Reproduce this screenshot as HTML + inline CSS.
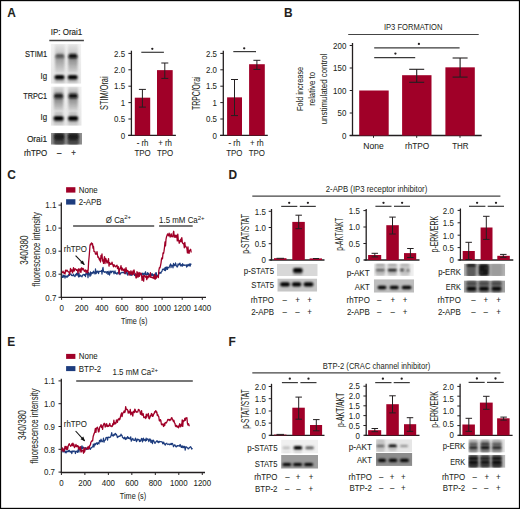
<!DOCTYPE html><html><head><meta charset="utf-8"><style>html,body{margin:0;padding:0;background:#fff;}body{width:520px;height:509px;overflow:hidden;font-family:"Liberation Sans",sans-serif;}svg{display:block;}</style></head><body><svg width="520" height="509" viewBox="0 0 520 509" font-family="Liberation Sans, sans-serif"><style>text{stroke:#231f20;stroke-width:0.06px;}g.pa text{stroke-width:0.16px;}text.v,g.pa text.v{stroke-width:0.04px;}text.n{stroke-width:0px;}</style><defs><filter id="b03" x="-50%" y="-100%" width="200%" height="300%"><feGaussianBlur stdDeviation="0.8"/></filter><filter id="b05" x="-50%" y="-100%" width="200%" height="300%"><feGaussianBlur stdDeviation="0.8"/></filter><filter id="b08" x="-50%" y="-100%" width="200%" height="300%"><feGaussianBlur stdDeviation="0.8"/></filter><filter id="b10" x="-50%" y="-100%" width="200%" height="300%"><feGaussianBlur stdDeviation="1.0"/></filter><filter id="b12" x="-50%" y="-100%" width="200%" height="300%"><feGaussianBlur stdDeviation="1.2"/></filter><filter id="b15" x="-50%" y="-100%" width="200%" height="300%"><feGaussianBlur stdDeviation="1.5"/></filter><filter id="b20" x="-50%" y="-100%" width="200%" height="300%"><feGaussianBlur stdDeviation="2.0"/></filter><clipPath id="c1"><rect x="277.00" y="264.00" width="40.70" height="12.00"/></clipPath><linearGradient id="g1" x1="0" y1="0" x2="0" y2="1"><stop offset="0" stop-color="#777" stop-opacity="0.8"/><stop offset="1" stop-color="#999" stop-opacity="0.3"/></linearGradient><clipPath id="c2"><rect x="277.30" y="278.40" width="39.90" height="13.30"/></clipPath><clipPath id="c3"><rect x="373.70" y="263.50" width="40.10" height="12.40"/></clipPath><clipPath id="c4"><rect x="373.80" y="279.20" width="40.20" height="13.50"/></clipPath><clipPath id="c5"><rect x="463.80" y="263.80" width="41.40" height="12.10"/></clipPath><clipPath id="c6"><rect x="463.80" y="280.40" width="41.20" height="12.30"/></clipPath><clipPath id="c7"><rect x="281.10" y="439.60" width="36.90" height="13.90"/></clipPath><clipPath id="c8"><rect x="281.10" y="454.90" width="36.90" height="13.80"/></clipPath><clipPath id="c9"><rect x="376.00" y="439.20" width="36.00" height="12.90"/></clipPath><clipPath id="c10"><rect x="376.00" y="453.00" width="36.30" height="12.90"/></clipPath><clipPath id="c11"><rect x="468.30" y="439.20" width="36.60" height="13.30"/></clipPath><clipPath id="c12"><rect x="468.30" y="454.90" width="37.10" height="12.90"/></clipPath><clipPath id="c13"><rect x="50.80" y="43.90" width="30.50" height="39.80"/></clipPath><linearGradient id="g2" x1="0" y1="0" x2="0" y2="1"><stop offset="0" stop-color="#f2f2f2"/><stop offset="1" stop-color="#e6e6e6"/></linearGradient><linearGradient id="g3" x1="0" y1="0" x2="0" y2="1"><stop offset="0" stop-color="#999" stop-opacity="0.15"/><stop offset="1" stop-color="#999" stop-opacity="0.45"/></linearGradient><linearGradient id="g4" x1="0" y1="0" x2="0" y2="1"><stop offset="0" stop-color="#999" stop-opacity="0.15"/><stop offset="1" stop-color="#999" stop-opacity="0.45"/></linearGradient><linearGradient id="g5" x1="0" y1="0" x2="0" y2="1"><stop offset="0" stop-color="#777" stop-opacity="0.8"/><stop offset="1" stop-color="#777" stop-opacity="0.15"/></linearGradient><linearGradient id="g6" x1="0" y1="0" x2="0" y2="1"><stop offset="0" stop-color="#666" stop-opacity="0.85"/><stop offset="1" stop-color="#666" stop-opacity="0.15"/></linearGradient><linearGradient id="g7" x1="0" y1="0" x2="0" y2="1"><stop offset="0" stop-color="#999" stop-opacity="0.7"/><stop offset="1" stop-color="#999" stop-opacity="0.2"/></linearGradient><linearGradient id="g8" x1="0" y1="0" x2="0" y2="1"><stop offset="0" stop-color="#999" stop-opacity="0.7"/><stop offset="1" stop-color="#999" stop-opacity="0.2"/></linearGradient><clipPath id="c14"><rect x="50.80" y="86.50" width="30.90" height="39.30"/></clipPath><linearGradient id="g9" x1="0" y1="0" x2="0" y2="1"><stop offset="0" stop-color="#f0f0f0"/><stop offset="1" stop-color="#e6e6e6"/></linearGradient><linearGradient id="g10" x1="0" y1="0" x2="0" y2="1"><stop offset="0" stop-color="#888" stop-opacity="0.2"/><stop offset="1" stop-color="#888" stop-opacity="0.6"/></linearGradient><linearGradient id="g11" x1="0" y1="0" x2="0" y2="1"><stop offset="0" stop-color="#888" stop-opacity="0.2"/><stop offset="1" stop-color="#888" stop-opacity="0.6"/></linearGradient><linearGradient id="g12" x1="0" y1="0" x2="0" y2="1"><stop offset="0" stop-color="#666" stop-opacity="0.85"/><stop offset="1" stop-color="#666" stop-opacity="0.15"/></linearGradient><linearGradient id="g13" x1="0" y1="0" x2="0" y2="1"><stop offset="0" stop-color="#666" stop-opacity="0.8"/><stop offset="1" stop-color="#666" stop-opacity="0.15"/></linearGradient><linearGradient id="g14" x1="0" y1="0" x2="0" y2="1"><stop offset="0" stop-color="#999" stop-opacity="0.7"/><stop offset="1" stop-color="#999" stop-opacity="0.2"/></linearGradient><linearGradient id="g15" x1="0" y1="0" x2="0" y2="1"><stop offset="0" stop-color="#999" stop-opacity="0.7"/><stop offset="1" stop-color="#999" stop-opacity="0.2"/></linearGradient><clipPath id="c15"><rect x="50.90" y="133.00" width="31.10" height="11.70"/></clipPath></defs><rect x="0" y="0" width="520" height="509" fill="#fff"/>
<text x="7.20" y="17.00" font-size="11.9" font-weight="bold" fill="#231f20">A</text>
<g class="pa">
<text x="66.50" y="35.30" font-size="9.3" text-anchor="middle" textLength="31.5" lengthAdjust="spacingAndGlyphs" fill="#231f20">IP: Orai1</text>
<line x1="49.30" y1="40.50" x2="83.90" y2="40.50" stroke="#444" stroke-width="1.4"/>
<text x="47.20" y="57.30" font-size="9.3" text-anchor="end" textLength="22.1" lengthAdjust="spacingAndGlyphs" fill="#231f20">STIM1</text>
<text x="47.20" y="79.20" font-size="9.3" text-anchor="end" textLength="6.59" lengthAdjust="spacingAndGlyphs" fill="#231f20">Ig</text>
<text x="47.20" y="99.20" font-size="9.3" text-anchor="end" textLength="24.0" lengthAdjust="spacingAndGlyphs" fill="#231f20">TRPC1</text>
<text x="47.20" y="120.20" font-size="9.3" text-anchor="end" textLength="6.59" lengthAdjust="spacingAndGlyphs" fill="#231f20">Ig</text>
<text x="47.20" y="142.10" font-size="9.3" text-anchor="end" textLength="20.3" lengthAdjust="spacingAndGlyphs" fill="#231f20">Orai1</text>
<text x="47.20" y="155.50" font-size="9.3" text-anchor="end" textLength="23.28" lengthAdjust="spacingAndGlyphs" fill="#231f20">rhTPO</text>
<text x="59.30" y="155.50" font-size="9.3" text-anchor="middle" textLength="4.4" lengthAdjust="spacingAndGlyphs" fill="#231f20">–</text>
<text x="73.60" y="155.50" font-size="9.3" text-anchor="middle" textLength="4.62" lengthAdjust="spacingAndGlyphs" fill="#231f20">+</text>
</g>
<line x1="131.40" y1="50.70" x2="131.40" y2="135.90" stroke="#231f20" stroke-width="1.3"/>
<line x1="128.20" y1="135.40" x2="175.90" y2="135.40" stroke="#231f20" stroke-width="1.3"/>
<line x1="128.40" y1="53.40" x2="131.40" y2="53.40" stroke="#231f20" stroke-width="1.0"/>
<text x="125.10" y="56.60" font-size="9.3" text-anchor="end" textLength="10.99" lengthAdjust="spacingAndGlyphs" fill="#231f20">2.5</text>
<line x1="128.40" y1="69.80" x2="131.40" y2="69.80" stroke="#231f20" stroke-width="1.0"/>
<text x="125.10" y="73.00" font-size="9.3" text-anchor="end" textLength="10.99" lengthAdjust="spacingAndGlyphs" fill="#231f20">2.0</text>
<line x1="128.40" y1="86.20" x2="131.40" y2="86.20" stroke="#231f20" stroke-width="1.0"/>
<text x="125.10" y="89.40" font-size="9.3" text-anchor="end" textLength="10.99" lengthAdjust="spacingAndGlyphs" fill="#231f20">1.5</text>
<line x1="128.40" y1="102.60" x2="131.40" y2="102.60" stroke="#231f20" stroke-width="1.0"/>
<text x="125.10" y="105.80" font-size="9.3" text-anchor="end" textLength="4.4" lengthAdjust="spacingAndGlyphs" fill="#231f20">1</text>
<line x1="128.40" y1="119.00" x2="131.40" y2="119.00" stroke="#231f20" stroke-width="1.0"/>
<text x="125.10" y="122.20" font-size="9.3" text-anchor="end" textLength="10.99" lengthAdjust="spacingAndGlyphs" fill="#231f20">0.5</text>
<line x1="128.40" y1="135.40" x2="131.40" y2="135.40" stroke="#231f20" stroke-width="1.0"/>
<text x="125.10" y="138.60" font-size="9.3" text-anchor="end" textLength="4.4" lengthAdjust="spacingAndGlyphs" fill="#231f20">0</text>
<rect x="134.80" y="97.68" width="15.40" height="37.72" fill="#a00028"/>
<line x1="142.40" y1="89.40" x2="142.40" y2="107.10" stroke="#231f20" stroke-width="1.0"/>
<line x1="138.90" y1="89.40" x2="145.90" y2="89.40" stroke="#231f20" stroke-width="1.0"/>
<line x1="138.90" y1="107.10" x2="145.90" y2="107.10" stroke="#231f20" stroke-width="1.0"/>
<rect x="157.00" y="70.13" width="15.70" height="65.27" fill="#a00028"/>
<line x1="164.80" y1="63.00" x2="164.80" y2="78.40" stroke="#231f20" stroke-width="1.0"/>
<line x1="161.30" y1="63.00" x2="168.30" y2="63.00" stroke="#231f20" stroke-width="1.0"/>
<line x1="161.30" y1="78.40" x2="168.30" y2="78.40" stroke="#231f20" stroke-width="1.0"/>
<text class="v" transform="translate(108.05,93.20) rotate(-90)" x="0" y="0" font-size="10.5" text-anchor="middle" textLength="33.6" lengthAdjust="spacingAndGlyphs" fill="#231f20">STIM/Orai</text>
<text x="142.60" y="146.10" font-size="9.3" text-anchor="middle" textLength="11.86" lengthAdjust="spacingAndGlyphs" fill="#231f20">- rh</text>
<text x="142.60" y="155.70" font-size="9.3" text-anchor="middle" textLength="16.25" lengthAdjust="spacingAndGlyphs" fill="#231f20">TPO</text>
<text x="165.10" y="146.10" font-size="9.3" text-anchor="middle" textLength="13.84" lengthAdjust="spacingAndGlyphs" fill="#231f20">+ rh</text>
<text x="165.10" y="155.70" font-size="9.3" text-anchor="middle" textLength="16.25" lengthAdjust="spacingAndGlyphs" fill="#231f20">TPO</text>
<line x1="141.30" y1="52.30" x2="163.90" y2="52.30" stroke="#3a3a3a" stroke-width="1.2"/>
<circle cx="152.30" cy="48.80" r="1.15" fill="#231f20"/>
<line x1="223.30" y1="50.70" x2="223.30" y2="135.90" stroke="#231f20" stroke-width="1.3"/>
<line x1="220.10" y1="135.40" x2="267.80" y2="135.40" stroke="#231f20" stroke-width="1.3"/>
<line x1="220.30" y1="53.40" x2="223.30" y2="53.40" stroke="#231f20" stroke-width="1.0"/>
<text x="217.00" y="56.60" font-size="9.3" text-anchor="end" textLength="10.99" lengthAdjust="spacingAndGlyphs" fill="#231f20">2.5</text>
<line x1="220.30" y1="69.80" x2="223.30" y2="69.80" stroke="#231f20" stroke-width="1.0"/>
<text x="217.00" y="73.00" font-size="9.3" text-anchor="end" textLength="10.99" lengthAdjust="spacingAndGlyphs" fill="#231f20">2.0</text>
<line x1="220.30" y1="86.20" x2="223.30" y2="86.20" stroke="#231f20" stroke-width="1.0"/>
<text x="217.00" y="89.40" font-size="9.3" text-anchor="end" textLength="10.99" lengthAdjust="spacingAndGlyphs" fill="#231f20">1.5</text>
<line x1="220.30" y1="102.60" x2="223.30" y2="102.60" stroke="#231f20" stroke-width="1.0"/>
<text x="217.00" y="105.80" font-size="9.3" text-anchor="end" textLength="4.4" lengthAdjust="spacingAndGlyphs" fill="#231f20">1</text>
<line x1="220.30" y1="119.00" x2="223.30" y2="119.00" stroke="#231f20" stroke-width="1.0"/>
<text x="217.00" y="122.20" font-size="9.3" text-anchor="end" textLength="10.99" lengthAdjust="spacingAndGlyphs" fill="#231f20">0.5</text>
<line x1="220.30" y1="135.40" x2="223.30" y2="135.40" stroke="#231f20" stroke-width="1.0"/>
<text x="217.00" y="138.60" font-size="9.3" text-anchor="end" textLength="4.4" lengthAdjust="spacingAndGlyphs" fill="#231f20">0</text>
<rect x="227.10" y="97.35" width="14.90" height="38.05" fill="#a00028"/>
<line x1="234.50" y1="79.50" x2="234.50" y2="115.60" stroke="#231f20" stroke-width="1.0"/>
<line x1="231.00" y1="79.50" x2="238.00" y2="79.50" stroke="#231f20" stroke-width="1.0"/>
<line x1="231.00" y1="115.60" x2="238.00" y2="115.60" stroke="#231f20" stroke-width="1.0"/>
<rect x="249.10" y="64.22" width="15.70" height="71.18" fill="#a00028"/>
<line x1="256.90" y1="60.30" x2="256.90" y2="69.40" stroke="#231f20" stroke-width="1.0"/>
<line x1="253.40" y1="60.30" x2="260.40" y2="60.30" stroke="#231f20" stroke-width="1.0"/>
<line x1="253.40" y1="69.40" x2="260.40" y2="69.40" stroke="#231f20" stroke-width="1.0"/>
<text class="v" transform="translate(199.95,93.20) rotate(-90)" x="0" y="0" font-size="10.5" text-anchor="middle" textLength="33.6" lengthAdjust="spacingAndGlyphs" fill="#231f20">TRPC/Orai</text>
<text x="234.40" y="146.10" font-size="9.3" text-anchor="middle" textLength="11.86" lengthAdjust="spacingAndGlyphs" fill="#231f20">- rh</text>
<text x="234.40" y="155.70" font-size="9.3" text-anchor="middle" textLength="16.25" lengthAdjust="spacingAndGlyphs" fill="#231f20">TPO</text>
<text x="256.80" y="146.10" font-size="9.3" text-anchor="middle" textLength="13.84" lengthAdjust="spacingAndGlyphs" fill="#231f20">+ rh</text>
<text x="256.80" y="155.70" font-size="9.3" text-anchor="middle" textLength="16.25" lengthAdjust="spacingAndGlyphs" fill="#231f20">TPO</text>
<line x1="233.30" y1="51.60" x2="256.00" y2="51.60" stroke="#3a3a3a" stroke-width="1.2"/>
<circle cx="244.20" cy="48.30" r="1.15" fill="#231f20"/>
<text x="284.00" y="17.00" font-size="11.9" font-weight="bold" fill="#231f20">B</text>
<text x="413.20" y="30.26" font-size="8.3" text-anchor="middle" textLength="58.5" lengthAdjust="spacingAndGlyphs" fill="#231f20" class="n">IP3 FORMATION</text>
<line x1="348.20" y1="34.50" x2="478.70" y2="34.50" stroke="#444" stroke-width="1.2"/>
<line x1="352.50" y1="43.00" x2="352.50" y2="136.00" stroke="#231f20" stroke-width="1.3"/>
<line x1="349.70" y1="135.50" x2="481.70" y2="135.50" stroke="#231f20" stroke-width="1.3"/>
<line x1="373.50" y1="135.50" x2="373.50" y2="137.80" stroke="#231f20" stroke-width="1.0"/>
<line x1="416.70" y1="135.50" x2="416.70" y2="137.80" stroke="#231f20" stroke-width="1.0"/>
<line x1="460.00" y1="135.50" x2="460.00" y2="137.80" stroke="#231f20" stroke-width="1.0"/>
<line x1="349.70" y1="45.50" x2="352.50" y2="45.50" stroke="#231f20" stroke-width="1.0"/>
<text x="346.30" y="48.70" font-size="9.3" text-anchor="end" textLength="13.19" lengthAdjust="spacingAndGlyphs" fill="#231f20">200</text>
<line x1="349.70" y1="68.00" x2="352.50" y2="68.00" stroke="#231f20" stroke-width="1.0"/>
<text x="346.30" y="71.20" font-size="9.3" text-anchor="end" textLength="13.19" lengthAdjust="spacingAndGlyphs" fill="#231f20">150</text>
<line x1="349.70" y1="90.50" x2="352.50" y2="90.50" stroke="#231f20" stroke-width="1.0"/>
<text x="346.30" y="93.70" font-size="9.3" text-anchor="end" textLength="13.19" lengthAdjust="spacingAndGlyphs" fill="#231f20">100</text>
<line x1="349.70" y1="113.00" x2="352.50" y2="113.00" stroke="#231f20" stroke-width="1.0"/>
<text x="346.30" y="116.20" font-size="9.3" text-anchor="end" textLength="8.79" lengthAdjust="spacingAndGlyphs" fill="#231f20">50</text>
<line x1="349.70" y1="135.50" x2="352.50" y2="135.50" stroke="#231f20" stroke-width="1.0"/>
<text x="346.30" y="138.70" font-size="9.3" text-anchor="end" textLength="4.4" lengthAdjust="spacingAndGlyphs" fill="#231f20">0</text>
<rect x="359.20" y="90.50" width="29.50" height="45.00" fill="#a00028"/>
<rect x="402.10" y="75.20" width="29.40" height="60.30" fill="#a00028"/>
<rect x="445.40" y="67.33" width="29.40" height="68.17" fill="#a00028"/>
<line x1="416.70" y1="69.30" x2="416.70" y2="82.30" stroke="#231f20" stroke-width="1.1"/>
<line x1="409.20" y1="69.30" x2="424.20" y2="69.30" stroke="#231f20" stroke-width="1.1"/>
<line x1="409.20" y1="82.30" x2="424.20" y2="82.30" stroke="#231f20" stroke-width="1.1"/>
<line x1="460.10" y1="58.00" x2="460.10" y2="77.10" stroke="#231f20" stroke-width="1.1"/>
<line x1="452.60" y1="58.00" x2="467.60" y2="58.00" stroke="#231f20" stroke-width="1.1"/>
<line x1="452.60" y1="77.10" x2="467.60" y2="77.10" stroke="#231f20" stroke-width="1.1"/>
<line x1="374.20" y1="57.70" x2="415.20" y2="57.70" stroke="#3a3a3a" stroke-width="1.2"/>
<circle cx="395.40" cy="53.60" r="1.15" fill="#231f20"/>
<line x1="374.20" y1="47.90" x2="459.60" y2="47.90" stroke="#3a3a3a" stroke-width="1.2"/>
<circle cx="418.90" cy="43.90" r="1.15" fill="#231f20"/>
<text x="373.50" y="149.40" font-size="9.3" text-anchor="middle" textLength="20.4" lengthAdjust="spacingAndGlyphs" fill="#231f20">None</text>
<text x="417.10" y="149.40" font-size="9.3" text-anchor="middle" textLength="24.4" lengthAdjust="spacingAndGlyphs" fill="#231f20">rhTPO</text>
<text x="460.30" y="149.40" font-size="9.3" text-anchor="middle" textLength="16.3" lengthAdjust="spacingAndGlyphs" fill="#231f20">THR</text>
<text class="v" transform="translate(302.58,88.90) rotate(-90)" x="0" y="0" font-size="9.6" text-anchor="middle" textLength="44.2" lengthAdjust="spacingAndGlyphs" fill="#231f20">Fold increase</text>
<text class="v" transform="translate(314.98,88.90) rotate(-90)" x="0" y="0" font-size="9.6" text-anchor="middle" textLength="33.8" lengthAdjust="spacingAndGlyphs" fill="#231f20">relative to</text>
<text class="v" transform="translate(326.88,88.90) rotate(-90)" x="0" y="0" font-size="9.6" text-anchor="middle" textLength="70.8" lengthAdjust="spacingAndGlyphs" fill="#231f20">unstimulated control</text>
<text x="7.30" y="179.20" font-size="11.9" font-weight="bold" fill="#231f20">C</text>
<rect x="66.10" y="187.20" width="9.30" height="5.40" fill="#a00028"/>
<rect x="66.10" y="199.20" width="9.30" height="5.40" fill="#1d3c7e"/>
<text x="78.80" y="193.00" font-size="9.3" textLength="18.9" lengthAdjust="spacingAndGlyphs" fill="#231f20">None</text>
<text x="78.80" y="205.00" font-size="9.3" textLength="22.85" lengthAdjust="spacingAndGlyphs" fill="#231f20">2-APB</text>
<line x1="61.30" y1="202.40" x2="61.30" y2="297.80" stroke="#231f20" stroke-width="1.3"/>
<line x1="58.50" y1="205.10" x2="61.30" y2="205.10" stroke="#231f20" stroke-width="1.0"/>
<text x="56.30" y="208.30" font-size="9.3" text-anchor="end" textLength="10.99" lengthAdjust="spacingAndGlyphs" fill="#231f20">1.1</text>
<line x1="58.50" y1="228.10" x2="61.30" y2="228.10" stroke="#231f20" stroke-width="1.0"/>
<text x="56.30" y="231.30" font-size="9.3" text-anchor="end" textLength="10.99" lengthAdjust="spacingAndGlyphs" fill="#231f20">1.0</text>
<line x1="58.50" y1="251.20" x2="61.30" y2="251.20" stroke="#231f20" stroke-width="1.0"/>
<text x="56.30" y="254.40" font-size="9.3" text-anchor="end" textLength="10.99" lengthAdjust="spacingAndGlyphs" fill="#231f20">0.9</text>
<line x1="58.50" y1="274.20" x2="61.30" y2="274.20" stroke="#231f20" stroke-width="1.0"/>
<text x="56.30" y="277.40" font-size="9.3" text-anchor="end" textLength="10.99" lengthAdjust="spacingAndGlyphs" fill="#231f20">0.8</text>
<line x1="58.50" y1="297.30" x2="61.30" y2="297.30" stroke="#231f20" stroke-width="1.0"/>
<text x="56.30" y="300.50" font-size="9.3" text-anchor="end" textLength="10.99" lengthAdjust="spacingAndGlyphs" fill="#231f20">0.7</text>
<line x1="60.80" y1="297.40" x2="206.00" y2="297.40" stroke="#231f20" stroke-width="1.3"/>
<line x1="61.60" y1="297.40" x2="61.60" y2="299.90" stroke="#231f20" stroke-width="1.0"/>
<text x="61.60" y="310.70" font-size="9.3" text-anchor="middle" textLength="4.4" lengthAdjust="spacingAndGlyphs" fill="#231f20">0</text>
<line x1="81.70" y1="297.40" x2="81.70" y2="299.90" stroke="#231f20" stroke-width="1.0"/>
<text x="81.70" y="310.70" font-size="9.3" text-anchor="middle" textLength="13.19" lengthAdjust="spacingAndGlyphs" fill="#231f20">200</text>
<line x1="101.80" y1="297.40" x2="101.80" y2="299.90" stroke="#231f20" stroke-width="1.0"/>
<text x="101.80" y="310.70" font-size="9.3" text-anchor="middle" textLength="13.19" lengthAdjust="spacingAndGlyphs" fill="#231f20">400</text>
<line x1="121.90" y1="297.40" x2="121.90" y2="299.90" stroke="#231f20" stroke-width="1.0"/>
<text x="121.90" y="310.70" font-size="9.3" text-anchor="middle" textLength="13.19" lengthAdjust="spacingAndGlyphs" fill="#231f20">600</text>
<line x1="142.00" y1="297.40" x2="142.00" y2="299.90" stroke="#231f20" stroke-width="1.0"/>
<text x="142.00" y="310.70" font-size="9.3" text-anchor="middle" textLength="13.19" lengthAdjust="spacingAndGlyphs" fill="#231f20">800</text>
<line x1="162.10" y1="297.40" x2="162.10" y2="299.90" stroke="#231f20" stroke-width="1.0"/>
<text x="162.10" y="310.70" font-size="9.3" text-anchor="middle" textLength="17.59" lengthAdjust="spacingAndGlyphs" fill="#231f20">1000</text>
<line x1="182.20" y1="297.40" x2="182.20" y2="299.90" stroke="#231f20" stroke-width="1.0"/>
<text x="182.20" y="310.70" font-size="9.3" text-anchor="middle" textLength="17.59" lengthAdjust="spacingAndGlyphs" fill="#231f20">1200</text>
<line x1="202.30" y1="297.40" x2="202.30" y2="299.90" stroke="#231f20" stroke-width="1.0"/>
<text x="202.30" y="310.70" font-size="9.3" text-anchor="middle" textLength="17.59" lengthAdjust="spacingAndGlyphs" fill="#231f20">1400</text>
<text x="134.20" y="323.70" font-size="9.3" text-anchor="middle" textLength="26.3" lengthAdjust="spacingAndGlyphs" fill="#231f20">Time (s)</text>
<text class="v" transform="translate(28.37,250.10) rotate(-90)" x="0" y="0" font-size="10.5" text-anchor="middle" textLength="29.4" lengthAdjust="spacingAndGlyphs" fill="#231f20">340/380</text>
<text class="v" transform="translate(39.54,249.30) rotate(-90)" x="0" y="0" font-size="10.5" text-anchor="middle" textLength="74.2" lengthAdjust="spacingAndGlyphs" fill="#231f20">fluorescence intensity</text>
<text x="105.80" y="223.00" font-size="9.3" fill="#231f20"><tspan textLength="18.45" lengthAdjust="spacingAndGlyphs">Ø Ca</tspan><tspan font-size="6" dy="-3.6">2+</tspan></text>
<line x1="73.10" y1="226.00" x2="154.20" y2="226.00" stroke="#4a4a4a" stroke-width="1.4"/>
<text x="159.10" y="223.40" font-size="9.3" fill="#231f20"><tspan textLength="38.66" lengthAdjust="spacingAndGlyphs">1.5 mM Ca</tspan><tspan font-size="6" dy="-3.6">2+</tspan></text>
<line x1="159.10" y1="226.00" x2="192.70" y2="226.00" stroke="#4a4a4a" stroke-width="1.4"/>
<text x="75.40" y="252.00" font-size="9.3" text-anchor="middle" textLength="23.28" lengthAdjust="spacingAndGlyphs" fill="#231f20">rhTPO</text>
<line x1="75.60" y1="255.60" x2="84.30" y2="264.60" stroke="#111" stroke-width="1.1"/>
<polygon points="84.72,265.03 80.15,263.04 82.89,260.40" fill="#111"/>
<polyline points="62.00,276.11 62.50,277.49 63.00,274.86 63.50,277.16 64.00,275.64 64.50,275.63 65.00,278.21 65.50,276.11 66.00,275.86 66.50,276.77 67.00,277.24 67.50,275.84 68.00,276.57 68.50,274.68 69.00,275.40 69.50,275.30 70.00,274.22 70.50,273.99 71.00,273.84 71.50,275.49 72.00,275.56 72.50,275.37 73.00,275.83 73.50,274.13 74.00,275.63 74.50,276.00 75.00,276.60 75.50,274.67 76.00,275.20 76.50,273.25 77.00,275.05 77.50,273.01 78.00,273.93 78.50,276.94 79.00,272.97 79.50,276.55 80.00,275.98 80.50,275.20 81.00,276.11 81.50,276.18 82.00,276.79 82.50,275.25 83.00,274.80 83.50,274.78 84.00,274.31 84.50,275.43 85.00,274.53 85.50,276.74 86.00,273.20 86.50,274.12 87.00,274.28 87.50,272.90 88.00,277.68 88.50,272.25 89.00,274.55 89.50,274.00 90.00,276.36 90.50,271.73 91.00,275.14 91.50,272.72 92.00,273.16 92.50,272.28 93.00,273.60 93.50,271.21 94.00,272.22 94.50,272.48 95.00,274.01 95.50,268.88 96.00,273.57 96.50,272.85 97.00,271.10 97.50,272.02 98.00,271.06 98.50,273.57 99.00,271.81 99.50,271.27 100.00,271.23 100.50,271.30 101.00,271.37 101.50,270.57 102.00,274.13 102.50,269.41 103.00,267.41 103.50,271.63 104.00,271.64 104.50,272.31 105.00,271.65 105.50,271.76 106.00,272.38 106.50,273.18 107.00,271.52 107.50,271.65 108.00,274.47 108.50,272.82 109.00,271.04 109.50,275.05 110.00,273.23 110.50,271.63 111.00,270.96 111.50,272.76 112.00,271.44 112.50,271.21 113.00,270.95 113.50,271.94 114.00,273.91 114.50,272.09 115.00,270.91 115.50,273.49 116.00,272.80 116.50,273.77 117.00,274.23 117.50,272.62 118.00,272.69 118.50,272.84 119.00,271.57 119.50,273.77 120.00,274.65 120.50,273.26 121.00,272.82 121.50,272.84 122.00,272.26 122.50,272.29 123.00,272.82 123.50,272.34 124.00,272.88 124.50,271.56 125.00,273.92 125.50,273.61 126.00,272.22 126.50,270.89 127.00,273.69 127.50,275.07 128.00,272.92 128.50,273.27 129.00,273.22 129.50,274.73 130.00,272.90 130.50,275.26 131.00,273.80 131.50,275.35 132.00,274.36 132.50,274.12 133.00,272.71 133.50,273.74 134.00,274.33 134.50,275.51 135.00,275.09 135.50,273.91 136.00,275.19 136.50,275.83 137.00,274.42 137.50,274.02 138.00,274.03 138.50,275.42 139.00,275.05 139.50,273.23 140.00,274.75 140.50,273.67 141.00,273.30 141.50,275.64 142.00,275.09 142.50,273.18 143.00,274.10 143.50,274.55 144.00,273.13 144.50,273.71 145.00,274.60 145.51,271.72 146.02,274.33 146.53,274.89 147.05,274.68 147.56,272.54 148.07,274.60 148.58,273.25 149.09,275.04 149.60,275.15 150.12,274.75 150.63,273.64 151.14,273.92 151.65,275.72 152.16,273.69 152.67,275.43 153.18,275.52 153.70,274.64 154.21,277.92 154.72,275.20 155.23,277.76 155.74,272.83 156.25,272.63 156.77,276.57 157.28,276.22 157.79,275.16 158.30,275.54 158.82,272.65 159.34,273.51 159.87,272.36 160.39,272.67 160.91,273.33 161.43,271.66 161.96,271.38 162.48,269.43 163.00,269.08 163.50,269.50 164.00,268.79 164.50,270.41 165.00,267.60 165.50,270.68 166.00,267.00 166.50,269.21 167.00,266.77 167.50,269.48 168.00,267.46 168.50,267.58 169.00,267.79 169.50,265.94 170.00,265.25 170.50,263.92 171.00,267.66 171.50,265.21 172.00,265.19 172.50,265.71 173.00,267.99 173.50,263.38 174.00,265.60 174.50,264.67 175.00,265.64 175.51,262.84 176.01,264.51 176.52,265.99 177.03,266.85 177.53,266.88 178.04,263.94 178.54,265.02 179.05,264.82 179.56,263.29 180.06,263.21 180.57,265.84 181.07,265.22 181.58,264.75 182.09,266.37 182.59,263.70 183.10,265.53 183.61,264.91 184.11,264.82 184.62,265.47 185.12,265.09 185.63,265.19 186.14,265.18 186.64,267.18 187.15,264.48 187.66,266.06 188.16,265.57 188.67,264.41 189.17,265.78 189.68,263.79 190.19,266.21 190.69,263.83 191.20,264.80" fill="none" stroke="#1d3c7e" stroke-width="1.2" stroke-linejoin="round"/>
<polyline points="62.00,272.07 62.50,272.68 63.00,271.14 63.50,272.38 64.00,273.23 64.50,272.35 65.00,274.12 65.50,270.15 66.00,271.61 66.50,270.31 67.00,270.12 67.50,271.02 68.00,271.60 68.50,271.86 69.00,271.94 69.50,274.64 70.00,272.38 70.50,268.40 71.00,271.23 71.50,269.86 72.00,269.99 72.50,272.86 73.00,270.37 73.50,267.55 74.00,271.13 74.50,270.12 75.00,268.66 75.50,269.02 76.00,269.45 76.50,270.36 77.00,269.67 77.50,270.42 78.00,273.20 78.50,268.93 79.00,268.88 79.50,269.72 80.00,271.83 80.50,268.90 81.00,272.28 81.50,267.85 82.00,268.24 82.50,269.76 83.00,268.42 83.52,268.93 84.04,270.76 84.56,271.32 85.08,270.46 85.60,269.96 86.12,272.67 86.64,271.28 87.16,270.38 87.68,272.82 88.20,269.56 88.60,262.26 89.30,254.81 90.00,245.48 90.50,244.01 91.00,244.93 91.50,242.93 92.00,243.58 92.50,243.63 93.00,248.09 93.50,246.48 94.00,251.46 94.50,251.49 95.00,251.78 95.50,254.18 96.00,253.92 96.50,254.18 97.00,251.71 97.50,255.14 98.00,257.33 98.50,257.05 99.00,258.61 99.50,260.14 100.00,258.52 100.50,261.98 101.00,255.33 101.50,258.21 102.00,253.97 102.50,260.99 103.00,259.87 103.50,263.39 104.00,259.61 104.50,256.62 105.00,263.56 105.50,258.52 106.00,258.86 106.50,261.25 107.00,263.06 107.50,260.98 108.00,262.57 108.50,258.64 109.00,266.06 109.50,262.67 110.00,263.24 110.50,264.42 111.00,263.84 111.50,264.15 112.00,262.14 112.50,264.02 113.00,265.38 113.50,266.84 114.00,264.76 114.50,265.43 115.00,266.18 115.50,266.82 116.00,266.27 116.50,265.53 117.00,265.20 117.50,268.65 118.00,267.17 118.50,266.80 119.00,273.90 119.50,268.89 120.00,269.01 120.50,267.80 121.00,265.65 121.50,270.14 122.00,267.88 122.50,268.36 123.00,270.49 123.50,270.67 124.00,269.30 124.50,269.05 125.00,273.40 125.50,270.58 126.00,267.61 126.50,271.39 127.00,270.42 127.50,270.42 128.00,271.94 128.50,271.28 129.00,275.05 129.50,271.68 130.00,272.00 130.50,274.02 131.00,270.77 131.50,274.13 132.00,272.18 132.50,274.87 133.00,271.00 133.50,273.74 134.00,269.90 134.50,272.42 135.00,273.53 135.50,274.69 136.00,277.85 136.50,277.77 137.00,271.62 137.50,272.99 138.00,277.20 138.50,275.78 139.00,272.37 139.50,276.27 140.00,273.25 140.52,273.87 141.04,273.17 141.56,275.25 142.08,280.36 142.60,276.71 143.12,275.83 143.64,281.16 144.16,275.30 144.68,276.01 145.20,275.87 145.72,277.33 146.24,275.96 146.76,279.58 147.28,276.18 147.80,277.97 148.32,277.39 148.84,275.32 149.36,275.17 149.88,277.11 150.40,272.72 150.93,277.35 151.46,277.49 151.99,277.63 152.51,277.20 153.04,278.08 153.57,276.69 154.10,278.68 154.63,274.16 155.16,279.25 155.69,275.69 156.21,278.43 156.74,276.54 157.27,276.64 157.80,275.92 158.34,277.68 158.88,270.33 159.42,267.59 159.96,267.94 160.50,265.52 161.00,263.09 161.50,259.08 162.00,257.70 162.50,258.81 163.00,252.94 163.50,253.58 164.00,251.17 164.50,247.34 165.00,242.01 165.50,245.97 166.00,239.42 166.50,236.93 167.02,235.40 167.54,233.87 168.07,235.09 168.59,235.83 169.11,233.26 169.63,235.09 170.16,237.08 170.68,235.24 171.20,233.79 171.71,236.56 172.22,236.52 172.72,236.73 173.23,233.26 173.74,231.27 174.25,237.25 174.76,235.89 175.27,235.19 175.78,237.32 176.28,235.51 176.79,235.40 177.30,240.96 177.80,234.11 178.30,240.02 178.80,240.99 179.30,243.24 179.80,240.50 180.30,241.65 180.80,239.12 181.30,241.78 181.80,237.69 182.30,241.64 182.80,243.41 183.30,243.83 183.80,243.60 184.30,247.79 184.80,242.35 185.30,246.71 185.80,246.13 186.34,247.64 186.88,248.22 187.42,252.92 187.96,246.87 188.50,252.69 189.04,253.38 189.58,250.57 190.12,250.06 190.66,249.25 191.20,252.50" fill="none" stroke="#a00028" stroke-width="1.3" stroke-linejoin="round"/>
<text x="7.30" y="345.70" font-size="11.9" font-weight="bold" fill="#231f20">E</text>
<rect x="66.10" y="353.90" width="9.30" height="5.00" fill="#a00028"/>
<rect x="66.10" y="366.10" width="9.30" height="5.00" fill="#1d3c7e"/>
<text x="78.80" y="359.00" font-size="9.3" textLength="18.9" lengthAdjust="spacingAndGlyphs" fill="#231f20">None</text>
<text x="78.80" y="371.60" font-size="9.3" textLength="22.4" lengthAdjust="spacingAndGlyphs" fill="#231f20">BTP-2</text>
<text x="112.50" y="375.40" font-size="9.3" fill="#231f20"><tspan textLength="38.66" lengthAdjust="spacingAndGlyphs">1.5 mM Ca</tspan><tspan font-size="6" dy="-3.6">2+</tspan></text>
<line x1="76.20" y1="381.00" x2="192.80" y2="381.00" stroke="#4a4a4a" stroke-width="1.4"/>
<line x1="61.30" y1="378.70" x2="61.30" y2="472.90" stroke="#231f20" stroke-width="1.3"/>
<line x1="58.50" y1="380.90" x2="61.30" y2="380.90" stroke="#231f20" stroke-width="1.0"/>
<text x="55.00" y="384.10" font-size="9.3" text-anchor="end" textLength="10.99" lengthAdjust="spacingAndGlyphs" fill="#231f20">1.1</text>
<line x1="58.50" y1="403.70" x2="61.30" y2="403.70" stroke="#231f20" stroke-width="1.0"/>
<text x="55.00" y="406.90" font-size="9.3" text-anchor="end" textLength="10.99" lengthAdjust="spacingAndGlyphs" fill="#231f20">1.0</text>
<line x1="58.50" y1="426.50" x2="61.30" y2="426.50" stroke="#231f20" stroke-width="1.0"/>
<text x="55.00" y="429.70" font-size="9.3" text-anchor="end" textLength="10.99" lengthAdjust="spacingAndGlyphs" fill="#231f20">0.9</text>
<line x1="58.50" y1="449.30" x2="61.30" y2="449.30" stroke="#231f20" stroke-width="1.0"/>
<text x="55.00" y="452.50" font-size="9.3" text-anchor="end" textLength="10.99" lengthAdjust="spacingAndGlyphs" fill="#231f20">0.8</text>
<line x1="58.50" y1="472.10" x2="61.30" y2="472.10" stroke="#231f20" stroke-width="1.0"/>
<text x="55.00" y="475.30" font-size="9.3" text-anchor="end" textLength="10.99" lengthAdjust="spacingAndGlyphs" fill="#231f20">0.7</text>
<line x1="60.80" y1="472.50" x2="205.00" y2="472.50" stroke="#231f20" stroke-width="1.3"/>
<line x1="61.40" y1="472.50" x2="61.40" y2="475.00" stroke="#231f20" stroke-width="1.0"/>
<text x="61.40" y="486.20" font-size="9.3" text-anchor="middle" textLength="4.4" lengthAdjust="spacingAndGlyphs" fill="#231f20">0</text>
<line x1="84.88" y1="472.50" x2="84.88" y2="475.00" stroke="#231f20" stroke-width="1.0"/>
<text x="84.88" y="486.20" font-size="9.3" text-anchor="middle" textLength="13.19" lengthAdjust="spacingAndGlyphs" fill="#231f20">200</text>
<line x1="108.36" y1="472.50" x2="108.36" y2="475.00" stroke="#231f20" stroke-width="1.0"/>
<text x="108.36" y="486.20" font-size="9.3" text-anchor="middle" textLength="13.19" lengthAdjust="spacingAndGlyphs" fill="#231f20">400</text>
<line x1="131.84" y1="472.50" x2="131.84" y2="475.00" stroke="#231f20" stroke-width="1.0"/>
<text x="131.84" y="486.20" font-size="9.3" text-anchor="middle" textLength="13.19" lengthAdjust="spacingAndGlyphs" fill="#231f20">600</text>
<line x1="155.32" y1="472.50" x2="155.32" y2="475.00" stroke="#231f20" stroke-width="1.0"/>
<text x="155.32" y="486.20" font-size="9.3" text-anchor="middle" textLength="13.19" lengthAdjust="spacingAndGlyphs" fill="#231f20">800</text>
<line x1="178.80" y1="472.50" x2="178.80" y2="475.00" stroke="#231f20" stroke-width="1.0"/>
<text x="178.80" y="486.20" font-size="9.3" text-anchor="middle" textLength="17.59" lengthAdjust="spacingAndGlyphs" fill="#231f20">1000</text>
<line x1="202.28" y1="472.50" x2="202.28" y2="475.00" stroke="#231f20" stroke-width="1.0"/>
<text x="202.28" y="486.20" font-size="9.3" text-anchor="middle" textLength="17.59" lengthAdjust="spacingAndGlyphs" fill="#231f20">1200</text>
<text x="133.00" y="499.20" font-size="9.3" text-anchor="middle" textLength="26.3" lengthAdjust="spacingAndGlyphs" fill="#231f20">Time (s)</text>
<text class="v" transform="translate(26.17,425.00) rotate(-90)" x="0" y="0" font-size="10.5" text-anchor="middle" textLength="30.0" lengthAdjust="spacingAndGlyphs" fill="#231f20">340/380</text>
<text class="v" transform="translate(37.84,426.10) rotate(-90)" x="0" y="0" font-size="10.5" text-anchor="middle" textLength="75.0" lengthAdjust="spacingAndGlyphs" fill="#231f20">fluorescence intensity</text>
<text x="75.40" y="427.00" font-size="9.3" text-anchor="middle" textLength="23.28" lengthAdjust="spacingAndGlyphs" fill="#231f20">rhTPO</text>
<line x1="75.60" y1="431.00" x2="84.60" y2="440.80" stroke="#111" stroke-width="1.1"/>
<polygon points="85.01,441.24 80.49,439.14 83.29,436.57" fill="#111"/>
<polyline points="62.00,450.32 62.52,450.35 63.03,452.17 63.55,449.21 64.06,451.36 64.58,449.24 65.09,452.60 65.61,451.70 66.12,452.86 66.64,451.00 67.15,451.90 67.67,451.21 68.18,450.76 68.70,451.65 69.22,450.24 69.73,451.15 70.25,452.20 70.76,451.56 71.28,451.09 71.79,453.69 72.31,451.56 72.82,450.91 73.34,451.66 73.85,450.98 74.37,451.11 74.88,451.15 75.40,453.53 75.91,451.27 76.41,451.17 76.92,451.41 77.43,452.50 77.93,450.01 78.44,449.36 78.95,452.20 79.45,448.01 79.96,448.85 80.47,449.63 80.97,451.00 81.48,447.51 81.99,445.78 82.49,448.61 83.00,447.18 83.52,447.37 84.04,448.27 84.56,448.08 85.08,448.20 85.60,447.54 86.12,449.31 86.64,449.58 87.16,448.16 87.68,447.73 88.20,448.97 88.72,448.76 89.24,447.30 89.76,447.93 90.28,449.50 90.80,448.40 91.32,447.65 91.83,447.68 92.35,446.92 92.87,446.43 93.38,443.99 93.90,447.15 94.42,445.08 94.93,443.49 95.45,444.83 95.97,443.64 96.48,442.83 97.00,443.35 97.50,444.39 98.00,442.51 98.50,443.37 99.00,443.77 99.50,440.42 100.00,440.74 100.50,441.87 101.00,439.21 101.50,440.48 102.00,441.87 102.50,441.45 103.00,440.81 103.50,438.17 104.00,442.24 104.50,440.27 105.00,440.31 105.50,439.87 106.00,437.48 106.52,437.46 107.04,437.37 107.56,440.20 108.08,437.14 108.60,437.42 109.12,437.11 109.64,437.62 110.16,437.25 110.68,436.71 111.20,434.87 111.72,432.69 112.24,435.69 112.76,435.48 113.28,436.14 113.80,434.50 114.31,434.12 114.83,435.28 115.34,433.45 115.85,434.09 116.37,434.26 116.88,435.69 117.39,437.62 117.91,436.43 118.42,436.94 118.93,436.17 119.45,436.35 119.96,435.75 120.47,436.05 120.99,434.04 121.50,435.40 122.01,435.44 122.53,437.69 123.04,437.64 123.55,438.25 124.07,438.79 124.58,437.05 125.09,438.54 125.61,439.57 126.12,437.73 126.63,438.95 127.15,437.83 127.66,436.51 128.17,438.37 128.69,437.55 129.20,438.61 129.72,438.16 130.23,439.08 130.75,436.75 131.27,441.10 131.78,440.50 132.30,438.92 132.82,438.49 133.33,439.53 133.85,440.33 134.37,440.20 134.88,440.31 135.40,438.06 135.92,439.03 136.43,441.63 136.95,440.66 137.47,439.02 137.98,439.80 138.50,439.35 139.00,439.62 139.50,441.66 140.00,440.10 140.50,441.29 141.00,440.19 141.50,438.32 142.00,439.02 142.50,441.84 143.00,438.58 143.50,438.13 144.03,440.58 144.56,439.54 145.09,439.56 145.62,441.18 146.15,438.02 146.68,440.36 147.22,438.99 147.75,438.76 148.28,439.48 148.81,441.60 149.34,440.41 149.87,438.81 150.40,439.67 150.91,442.46 151.43,442.04 151.94,439.99 152.45,443.68 152.97,440.93 153.48,440.18 153.99,441.36 154.51,442.56 155.02,443.35 155.53,442.85 156.05,441.46 156.56,441.43 157.07,440.61 157.59,442.12 158.10,441.69 158.61,442.65 159.13,441.21 159.64,442.07 160.15,441.80 160.67,441.57 161.18,441.69 161.69,441.96 162.21,441.89 162.72,443.78 163.23,443.40 163.75,442.05 164.26,444.02 164.77,443.89 165.29,445.19 165.80,443.60 166.31,443.64 166.83,443.20 167.34,444.09 167.85,444.52 168.37,444.25 168.88,443.86 169.39,444.75 169.91,444.32 170.42,444.53 170.93,443.38 171.45,444.60 171.96,443.42 172.47,443.63 172.99,444.71 173.50,446.75 174.01,445.78 174.53,444.92 175.04,444.90 175.55,446.25 176.07,446.81 176.58,446.81 177.09,445.53 177.61,446.07 178.12,445.70 178.63,445.91 179.15,445.49 179.66,446.26 180.17,444.48 180.69,445.61 181.20,447.44 181.70,446.12 182.20,447.68 182.70,445.87 183.20,446.88 183.70,447.73 184.20,446.33 184.70,446.73 185.20,450.05 185.70,446.89 186.20,446.93 186.70,447.13 187.20,447.82 187.70,447.82 188.20,448.92 188.70,448.79 189.20,447.63 189.70,447.74 190.20,446.73 190.70,446.71 191.20,447.55 191.70,449.12 192.20,448.56 192.70,448.50" fill="none" stroke="#1d3c7e" stroke-width="1.2" stroke-linejoin="round"/>
<polyline points="62.00,451.50 62.50,447.94 63.00,449.01 63.50,449.85 64.00,451.46 64.50,449.06 65.00,446.38 65.50,448.79 66.00,446.32 66.53,449.34 67.07,446.89 67.60,449.36 68.13,446.31 68.67,444.68 69.20,443.68 69.73,444.85 70.27,445.60 70.80,446.27 71.32,445.09 71.83,443.80 72.35,445.65 72.87,443.06 73.38,445.89 73.90,444.25 74.42,447.51 74.93,446.92 75.45,446.16 75.97,444.34 76.48,446.65 77.00,446.52 77.50,445.56 78.00,445.80 78.50,448.78 79.00,446.77 79.50,448.29 80.00,449.95 80.50,446.67 81.00,452.00 81.50,451.67 82.00,450.09 82.50,450.42 83.00,450.79 83.50,453.23 84.00,447.73 84.50,452.05 85.00,450.40 85.50,448.63 86.00,448.29 86.53,448.15 87.07,448.01 87.60,449.25 88.13,446.50 88.67,448.87 89.20,448.38 89.78,445.27 90.35,445.11 90.92,442.12 91.50,441.58 92.06,440.56 92.61,440.93 93.17,436.50 93.73,434.72 94.29,433.33 94.84,431.39 95.40,428.38 95.91,432.40 96.42,428.22 96.93,427.85 97.44,427.24 97.96,428.93 98.47,431.92 98.98,431.60 99.49,428.11 100.00,426.72 100.51,426.16 101.03,424.67 101.54,427.29 102.06,426.03 102.57,429.29 103.09,425.73 103.60,424.62 104.11,423.36 104.63,423.44 105.14,427.03 105.66,426.61 106.17,424.35 106.69,423.77 107.20,426.49 107.71,425.52 108.23,426.39 108.74,426.01 109.26,424.85 109.77,423.40 110.29,426.21 110.80,426.15 111.31,425.86 111.82,426.60 112.33,426.15 112.84,423.59 113.36,424.80 113.87,420.22 114.38,424.11 114.89,422.62 115.40,423.79 115.91,423.33 116.42,420.00 116.93,420.81 117.44,422.27 117.96,419.34 118.47,419.86 118.98,418.41 119.49,419.81 120.00,418.95 120.52,416.48 121.03,414.80 121.55,412.82 122.07,416.69 122.58,413.95 123.10,412.80 123.62,412.28 124.13,410.91 124.65,412.56 125.17,411.70 125.68,406.58 126.20,409.16 126.71,409.68 127.22,409.34 127.73,410.31 128.23,413.01 128.74,411.27 129.25,412.92 129.76,412.96 130.27,409.44 130.78,414.75 131.28,412.69 131.79,412.26 132.30,414.28 132.80,416.18 133.30,411.35 133.80,411.28 134.30,412.63 134.80,409.15 135.30,409.93 135.80,411.47 136.30,412.30 136.80,411.76 137.30,411.98 137.80,412.12 138.30,409.57 138.80,409.48 139.36,410.30 139.91,411.05 140.47,414.02 141.03,414.41 141.59,410.73 142.14,415.38 142.70,413.80 143.21,413.76 143.73,417.49 144.24,417.59 144.75,417.41 145.27,416.71 145.78,418.50 146.29,414.04 146.81,417.12 147.32,414.86 147.83,415.02 148.35,413.50 148.86,418.38 149.37,418.82 149.89,417.51 150.40,415.32 150.94,415.95 151.48,413.51 152.02,414.19 152.56,416.38 153.10,415.98 153.64,414.01 154.18,413.64 154.72,411.71 155.26,411.92 155.80,410.57 156.30,412.60 156.80,411.92 157.30,415.46 157.80,414.60 158.30,416.30 158.80,416.82 159.32,420.64 159.83,420.95 160.35,419.60 160.87,420.65 161.38,424.24 161.90,424.79 162.46,424.03 163.01,424.50 163.57,426.47 164.13,423.57 164.69,425.67 165.24,422.51 165.80,422.67 166.31,423.00 166.82,421.91 167.33,420.77 167.83,419.40 168.34,420.01 168.85,419.41 169.36,419.52 169.87,420.63 170.38,419.31 170.88,419.80 171.39,417.85 171.90,417.72 172.41,419.01 172.92,420.18 173.43,421.65 173.94,420.27 174.46,422.80 174.97,423.48 175.48,426.06 175.99,426.50 176.50,425.37 177.02,426.79 177.54,427.14 178.07,426.05 178.59,427.80 179.11,426.20 179.63,423.77 180.16,426.08 180.68,426.72 181.20,424.21 181.71,425.81 182.22,419.87 182.73,426.45 183.24,420.55 183.76,421.26 184.27,420.81 184.78,418.47 185.29,420.38 185.80,417.84 186.34,418.19 186.89,417.72 187.43,423.28 187.97,425.00 188.51,423.80 189.06,425.55 189.60,426.20" fill="none" stroke="#a00028" stroke-width="1.3" stroke-linejoin="round"/>
<text x="228.50" y="179.20" font-size="11.9" font-weight="bold" fill="#231f20">D</text>
<text x="376.50" y="192.40" font-size="9.0" text-anchor="middle" textLength="101.5" lengthAdjust="spacingAndGlyphs" fill="#231f20" class="n">2-APB (IP3 receptor inhibitor)</text>
<line x1="252.30" y1="196.20" x2="500.40" y2="196.20" stroke="#444" stroke-width="1.2"/>
<line x1="271.50" y1="209.00" x2="271.50" y2="260.50" stroke="#231f20" stroke-width="1.3"/>
<line x1="269.70" y1="260.00" x2="324.50" y2="260.00" stroke="#231f20" stroke-width="1.3"/>
<line x1="268.70" y1="211.30" x2="271.50" y2="211.30" stroke="#231f20" stroke-width="1.0"/>
<line x1="268.70" y1="227.50" x2="271.50" y2="227.50" stroke="#231f20" stroke-width="1.0"/>
<line x1="268.70" y1="243.70" x2="271.50" y2="243.70" stroke="#231f20" stroke-width="1.0"/>
<line x1="268.70" y1="260.00" x2="271.50" y2="260.00" stroke="#231f20" stroke-width="1.0"/>
<text x="265.80" y="214.50" font-size="9.3" text-anchor="end" textLength="10.99" lengthAdjust="spacingAndGlyphs" fill="#231f20">1.5</text>
<text x="265.80" y="230.70" font-size="9.3" text-anchor="end" textLength="10.99" lengthAdjust="spacingAndGlyphs" fill="#231f20">1.0</text>
<text x="265.80" y="246.90" font-size="9.3" text-anchor="end" textLength="10.99" lengthAdjust="spacingAndGlyphs" fill="#231f20">0.5</text>
<text x="265.80" y="263.20" font-size="9.3" text-anchor="end" textLength="4.4" lengthAdjust="spacingAndGlyphs" fill="#231f20">0</text>
<rect x="274.00" y="258.20" width="12.50" height="1.80" fill="#a00028"/>
<rect x="292.30" y="221.90" width="12.50" height="38.10" fill="#a00028"/>
<line x1="298.70" y1="215.20" x2="298.70" y2="228.70" stroke="#231f20" stroke-width="1.0"/>
<line x1="295.45" y1="215.20" x2="301.95" y2="215.20" stroke="#231f20" stroke-width="1.0"/>
<line x1="295.45" y1="228.70" x2="301.95" y2="228.70" stroke="#231f20" stroke-width="1.0"/>
<rect x="309.60" y="258.40" width="12.40" height="1.60" fill="#a00028"/>
<line x1="281.20" y1="206.40" x2="297.30" y2="206.40" stroke="#3a3a3a" stroke-width="1.2"/>
<circle cx="289.20" cy="202.80" r="1.15" fill="#231f20"/>
<line x1="299.80" y1="206.40" x2="315.80" y2="206.40" stroke="#3a3a3a" stroke-width="1.2"/>
<circle cx="307.90" cy="202.80" r="1.15" fill="#231f20"/>
<text class="v" transform="translate(248.95,234.00) rotate(-90)" x="0" y="0" font-size="10.5" text-anchor="middle" textLength="39.5" lengthAdjust="spacingAndGlyphs" fill="#231f20">p-STAT/STAT</text>
<line x1="276.50" y1="258.30" x2="284.00" y2="258.30" stroke="#231f20" stroke-width="1.0"/>
<line x1="313.00" y1="258.50" x2="319.00" y2="258.50" stroke="#231f20" stroke-width="1.0"/>
<line x1="366.20" y1="209.00" x2="366.20" y2="260.50" stroke="#231f20" stroke-width="1.3"/>
<line x1="364.40" y1="260.00" x2="419.50" y2="260.00" stroke="#231f20" stroke-width="1.3"/>
<line x1="363.40" y1="210.60" x2="366.20" y2="210.60" stroke="#231f20" stroke-width="1.0"/>
<line x1="363.40" y1="227.00" x2="366.20" y2="227.00" stroke="#231f20" stroke-width="1.0"/>
<line x1="363.40" y1="243.50" x2="366.20" y2="243.50" stroke="#231f20" stroke-width="1.0"/>
<line x1="363.40" y1="260.00" x2="366.20" y2="260.00" stroke="#231f20" stroke-width="1.0"/>
<text x="359.80" y="213.80" font-size="9.3" text-anchor="end" textLength="10.99" lengthAdjust="spacingAndGlyphs" fill="#231f20">1.5</text>
<text x="359.80" y="230.20" font-size="9.3" text-anchor="end" textLength="10.99" lengthAdjust="spacingAndGlyphs" fill="#231f20">1.0</text>
<text x="359.80" y="246.70" font-size="9.3" text-anchor="end" textLength="10.99" lengthAdjust="spacingAndGlyphs" fill="#231f20">0.5</text>
<text x="359.80" y="263.20" font-size="9.3" text-anchor="end" textLength="4.4" lengthAdjust="spacingAndGlyphs" fill="#231f20">0</text>
<rect x="368.10" y="255.00" width="13.10" height="5.00" fill="#a00028"/>
<line x1="374.80" y1="253.30" x2="374.80" y2="256.90" stroke="#231f20" stroke-width="1.0"/>
<line x1="371.55" y1="253.30" x2="378.05" y2="253.30" stroke="#231f20" stroke-width="1.0"/>
<line x1="371.55" y1="256.90" x2="378.05" y2="256.90" stroke="#231f20" stroke-width="1.0"/>
<rect x="386.30" y="225.20" width="12.50" height="34.80" fill="#a00028"/>
<line x1="392.50" y1="217.10" x2="392.50" y2="234.00" stroke="#231f20" stroke-width="1.0"/>
<line x1="389.25" y1="217.10" x2="395.75" y2="217.10" stroke="#231f20" stroke-width="1.0"/>
<line x1="389.25" y1="234.00" x2="395.75" y2="234.00" stroke="#231f20" stroke-width="1.0"/>
<rect x="404.00" y="253.10" width="12.20" height="6.90" fill="#a00028"/>
<line x1="410.40" y1="248.50" x2="410.40" y2="257.50" stroke="#231f20" stroke-width="1.0"/>
<line x1="407.15" y1="248.50" x2="413.65" y2="248.50" stroke="#231f20" stroke-width="1.0"/>
<line x1="407.15" y1="257.50" x2="413.65" y2="257.50" stroke="#231f20" stroke-width="1.0"/>
<line x1="375.40" y1="206.30" x2="391.50" y2="206.30" stroke="#3a3a3a" stroke-width="1.2"/>
<circle cx="383.50" cy="202.80" r="1.15" fill="#231f20"/>
<line x1="394.00" y1="206.30" x2="410.00" y2="206.30" stroke="#3a3a3a" stroke-width="1.2"/>
<circle cx="402.10" cy="202.80" r="1.15" fill="#231f20"/>
<text class="v" transform="translate(343.35,234.20) rotate(-90)" x="0" y="0" font-size="10.5" text-anchor="middle" textLength="33.1" lengthAdjust="spacingAndGlyphs" fill="#231f20">p-AKT/AKT</text>
<line x1="460.40" y1="208.50" x2="460.40" y2="260.50" stroke="#231f20" stroke-width="1.3"/>
<line x1="458.60" y1="260.00" x2="513.30" y2="260.00" stroke="#231f20" stroke-width="1.3"/>
<line x1="457.60" y1="210.40" x2="460.40" y2="210.40" stroke="#231f20" stroke-width="1.0"/>
<line x1="457.60" y1="222.80" x2="460.40" y2="222.80" stroke="#231f20" stroke-width="1.0"/>
<line x1="457.60" y1="235.20" x2="460.40" y2="235.20" stroke="#231f20" stroke-width="1.0"/>
<line x1="457.60" y1="247.60" x2="460.40" y2="247.60" stroke="#231f20" stroke-width="1.0"/>
<line x1="457.60" y1="260.00" x2="460.40" y2="260.00" stroke="#231f20" stroke-width="1.0"/>
<text x="453.80" y="213.60" font-size="9.3" text-anchor="end" textLength="10.99" lengthAdjust="spacingAndGlyphs" fill="#231f20">2.0</text>
<text x="453.80" y="226.20" font-size="9.3" text-anchor="end" textLength="10.99" lengthAdjust="spacingAndGlyphs" fill="#231f20">1.5</text>
<text x="453.80" y="238.70" font-size="9.3" text-anchor="end" textLength="10.99" lengthAdjust="spacingAndGlyphs" fill="#231f20">1.0</text>
<text x="453.80" y="251.00" font-size="9.3" text-anchor="end" textLength="10.99" lengthAdjust="spacingAndGlyphs" fill="#231f20">0.5</text>
<text x="453.80" y="263.20" font-size="9.3" text-anchor="end" textLength="4.4" lengthAdjust="spacingAndGlyphs" fill="#231f20">0</text>
<rect x="462.70" y="251.00" width="12.10" height="9.00" fill="#a00028"/>
<line x1="468.70" y1="242.30" x2="468.70" y2="259.50" stroke="#231f20" stroke-width="1.0"/>
<line x1="465.45" y1="242.30" x2="471.95" y2="242.30" stroke="#231f20" stroke-width="1.0"/>
<line x1="465.45" y1="259.50" x2="471.95" y2="259.50" stroke="#231f20" stroke-width="1.0"/>
<rect x="480.60" y="227.50" width="11.90" height="32.50" fill="#a00028"/>
<line x1="486.30" y1="216.30" x2="486.30" y2="239.40" stroke="#231f20" stroke-width="1.0"/>
<line x1="483.05" y1="216.30" x2="489.55" y2="216.30" stroke="#231f20" stroke-width="1.0"/>
<line x1="483.05" y1="239.40" x2="489.55" y2="239.40" stroke="#231f20" stroke-width="1.0"/>
<rect x="497.30" y="255.80" width="12.50" height="4.20" fill="#a00028"/>
<line x1="503.30" y1="254.40" x2="503.30" y2="257.30" stroke="#231f20" stroke-width="1.0"/>
<line x1="500.05" y1="254.40" x2="506.55" y2="254.40" stroke="#231f20" stroke-width="1.0"/>
<line x1="500.05" y1="257.30" x2="506.55" y2="257.30" stroke="#231f20" stroke-width="1.0"/>
<line x1="469.00" y1="206.30" x2="485.40" y2="206.30" stroke="#3a3a3a" stroke-width="1.2"/>
<circle cx="477.10" cy="202.80" r="1.15" fill="#231f20"/>
<line x1="487.70" y1="206.30" x2="504.00" y2="206.30" stroke="#3a3a3a" stroke-width="1.2"/>
<circle cx="496.00" cy="202.80" r="1.15" fill="#231f20"/>
<text class="v" transform="translate(438.15,234.20) rotate(-90)" x="0" y="0" font-size="10.5" text-anchor="middle" textLength="36.5" lengthAdjust="spacingAndGlyphs" fill="#231f20">p-ERK/ERK</text>
<g clip-path="url(#c1)">
<rect x="277.00" y="264.00" width="40.70" height="12.00" fill="#d8d8d8"/>
<rect x="293.30" y="271.50" width="9.00" height="4.50" fill="url(#g1)" filter="url(#b10)"/>
<rect x="293.00" y="268.10" width="9.60" height="4.60" rx="2.00" fill="#000" opacity="1" filter="url(#b08)"/>
</g>
<g clip-path="url(#c2)">
<rect x="277.30" y="278.40" width="39.90" height="13.30" fill="#c6c6c6"/>
<rect x="280.10" y="282.20" width="9.80" height="4.20" rx="2.00" fill="#000" opacity="1" filter="url(#b08)"/>
<rect x="291.90" y="282.20" width="9.40" height="4.20" rx="2.00" fill="#000" opacity="1" filter="url(#b08)"/>
<rect x="303.60" y="282.20" width="9.80" height="4.20" rx="2.00" fill="#000" opacity="1" filter="url(#b08)"/>
</g>
<g clip-path="url(#c3)">
<rect x="373.70" y="263.50" width="40.10" height="12.40" fill="#eeeeee"/>
<rect x="375.55" y="263.00" width="9.50" height="13.00" rx="2.00" fill="#c6c6c6" opacity="1" filter="url(#b12)"/>
<rect x="387.55" y="263.00" width="9.50" height="13.00" rx="2.00" fill="#cbcbcb" opacity="1" filter="url(#b12)"/>
<rect x="400.15" y="263.00" width="9.50" height="13.00" rx="2.00" fill="#cbcbcb" opacity="1" filter="url(#b12)"/>
<rect x="376.05" y="264.20" width="8.50" height="1.60" rx="0.80" fill="#999" opacity="1" filter="url(#b08)"/>
<rect x="388.05" y="264.20" width="8.50" height="1.60" rx="0.80" fill="#999" opacity="1" filter="url(#b08)"/>
<rect x="400.65" y="264.20" width="8.50" height="1.60" rx="0.80" fill="#aaa" opacity="1" filter="url(#b08)"/>
<rect x="376.05" y="272.00" width="8.50" height="1.60" rx="0.80" fill="#aaa" opacity="1" filter="url(#b08)"/>
<rect x="388.05" y="272.00" width="8.50" height="1.60" rx="0.80" fill="#aaa" opacity="1" filter="url(#b08)"/>
<rect x="400.65" y="272.00" width="8.50" height="1.60" rx="0.80" fill="#bbb" opacity="1" filter="url(#b08)"/>
<rect x="375.80" y="269.20" width="9.00" height="1.80" rx="0.90" fill="#3a3a3a" opacity="1" filter="url(#b08)"/>
<rect x="387.70" y="268.95" width="9.20" height="2.30" rx="1.15" fill="#000" opacity="1" filter="url(#b08)"/>
<rect x="400.00" y="269.10" width="4.00" height="2.00" rx="1.00" fill="#111" opacity="1" filter="url(#b08)"/>
<rect x="406.50" y="269.40" width="3.00" height="1.80" rx="0.90" fill="#333" opacity="1" filter="url(#b08)"/>
</g>
<g clip-path="url(#c4)">
<rect x="373.80" y="279.20" width="40.20" height="13.50" fill="#bdbdbd"/>
<rect x="377.60" y="285.65" width="8.80" height="3.50" rx="1.75" fill="#000" opacity="1" filter="url(#b08)"/>
<rect x="389.65" y="285.65" width="9.10" height="3.50" rx="1.75" fill="#000" opacity="1" filter="url(#b08)"/>
<rect x="401.70" y="285.65" width="9.80" height="3.50" rx="1.75" fill="#000" opacity="1" filter="url(#b08)"/>
</g>
<g clip-path="url(#c5)">
<rect x="463.80" y="263.80" width="41.40" height="12.10" fill="#b0b0b0"/>
<rect x="466.50" y="264.00" width="9.40" height="13.00" rx="2.00" fill="#5c5c5c" opacity="1" filter="url(#b10)"/>
<rect x="466.70" y="263.70" width="9.00" height="2.60" rx="1.30" fill="#111" opacity="1" filter="url(#b08)"/>
<rect x="478.80" y="264.00" width="10.00" height="12.00" rx="2.00" fill="#141414" opacity="1" filter="url(#b08)"/>
<rect x="480.25" y="271.50" width="2.50" height="2.00" rx="1.00" fill="#444" opacity="1" filter="url(#b08)"/>
<rect x="485.25" y="267.00" width="2.50" height="2.00" rx="1.00" fill="#444" opacity="1" filter="url(#b08)"/>
<rect x="491.00" y="263.50" width="11.00" height="13.00" rx="2.00" fill="#9c9c9c" opacity="1" filter="url(#b12)"/>
</g>
<g clip-path="url(#c6)">
<rect x="463.80" y="280.40" width="41.20" height="12.30" fill="#a2a2a2"/>
<rect x="466.50" y="280.00" width="10.00" height="13.00" rx="2.00" fill="#6e6e6e" opacity="1" filter="url(#b10)"/>
<rect x="479.00" y="280.00" width="10.00" height="13.00" rx="2.00" fill="#6e6e6e" opacity="1" filter="url(#b10)"/>
<rect x="491.50" y="280.00" width="10.00" height="13.00" rx="2.00" fill="#6e6e6e" opacity="1" filter="url(#b10)"/>
<rect x="466.75" y="282.40" width="9.50" height="2.40" rx="1.20" fill="#3a3a3a" opacity="1" filter="url(#b08)"/>
<rect x="479.25" y="282.40" width="9.50" height="2.40" rx="1.20" fill="#3a3a3a" opacity="1" filter="url(#b08)"/>
<rect x="491.75" y="282.40" width="9.50" height="2.40" rx="1.20" fill="#3a3a3a" opacity="1" filter="url(#b08)"/>
<rect x="466.75" y="287.00" width="9.50" height="3.40" rx="1.70" fill="#000" opacity="1" filter="url(#b08)"/>
<rect x="479.25" y="287.00" width="9.50" height="3.40" rx="1.70" fill="#000" opacity="1" filter="url(#b08)"/>
<rect x="491.75" y="287.00" width="9.50" height="3.40" rx="1.70" fill="#000" opacity="1" filter="url(#b08)"/>
</g>
<text x="274.00" y="274.00" font-size="9.3" text-anchor="end" textLength="30.2" lengthAdjust="spacingAndGlyphs" fill="#231f20">p-STAT5</text>
<text x="274.00" y="288.40" font-size="9.3" text-anchor="end" textLength="22.7" lengthAdjust="spacingAndGlyphs" fill="#231f20">STAT5</text>
<text x="274.00" y="303.00" font-size="9.3" text-anchor="end" textLength="23.28" lengthAdjust="spacingAndGlyphs" fill="#231f20">rhTPO</text>
<text x="274.00" y="314.80" font-size="9.3" text-anchor="end" textLength="22.85" lengthAdjust="spacingAndGlyphs" fill="#231f20">2-APB</text>
<text x="284.60" y="303.00" font-size="9.3" text-anchor="middle" textLength="4.4" lengthAdjust="spacingAndGlyphs" fill="#231f20">–</text>
<text x="297.50" y="303.00" font-size="9.3" text-anchor="middle" textLength="4.62" lengthAdjust="spacingAndGlyphs" fill="#231f20">+</text>
<text x="309.60" y="303.00" font-size="9.3" text-anchor="middle" textLength="4.62" lengthAdjust="spacingAndGlyphs" fill="#231f20">+</text>
<text x="284.60" y="314.80" font-size="9.3" text-anchor="middle" textLength="4.4" lengthAdjust="spacingAndGlyphs" fill="#231f20">–</text>
<text x="297.50" y="314.80" font-size="9.3" text-anchor="middle" textLength="4.4" lengthAdjust="spacingAndGlyphs" fill="#231f20">–</text>
<text x="309.60" y="314.80" font-size="9.3" text-anchor="middle" textLength="4.62" lengthAdjust="spacingAndGlyphs" fill="#231f20">+</text>
<text x="369.80" y="275.60" font-size="9.3" text-anchor="end" textLength="23.1" lengthAdjust="spacingAndGlyphs" fill="#231f20">p-AKT</text>
<text x="369.80" y="289.90" font-size="9.3" text-anchor="end" textLength="15.0" lengthAdjust="spacingAndGlyphs" fill="#231f20">AKT</text>
<text x="369.80" y="303.00" font-size="9.3" text-anchor="end" textLength="23.28" lengthAdjust="spacingAndGlyphs" fill="#231f20">rhTPO</text>
<text x="369.80" y="315.00" font-size="9.3" text-anchor="end" textLength="22.85" lengthAdjust="spacingAndGlyphs" fill="#231f20">2-APB</text>
<text x="379.20" y="303.00" font-size="9.3" text-anchor="middle" textLength="4.4" lengthAdjust="spacingAndGlyphs" fill="#231f20">–</text>
<text x="392.70" y="303.00" font-size="9.3" text-anchor="middle" textLength="4.62" lengthAdjust="spacingAndGlyphs" fill="#231f20">+</text>
<text x="405.00" y="303.00" font-size="9.3" text-anchor="middle" textLength="4.62" lengthAdjust="spacingAndGlyphs" fill="#231f20">+</text>
<text x="379.20" y="315.00" font-size="9.3" text-anchor="middle" textLength="4.4" lengthAdjust="spacingAndGlyphs" fill="#231f20">–</text>
<text x="392.70" y="315.00" font-size="9.3" text-anchor="middle" textLength="4.4" lengthAdjust="spacingAndGlyphs" fill="#231f20">–</text>
<text x="405.00" y="315.00" font-size="9.3" text-anchor="middle" textLength="4.62" lengthAdjust="spacingAndGlyphs" fill="#231f20">+</text>
<text x="460.80" y="274.70" font-size="9.3" text-anchor="end" textLength="22.5" lengthAdjust="spacingAndGlyphs" fill="#231f20">p-ERK</text>
<text x="460.80" y="289.90" font-size="9.3" text-anchor="end" textLength="15.0" lengthAdjust="spacingAndGlyphs" fill="#231f20">ERK</text>
<text x="460.80" y="303.00" font-size="9.3" text-anchor="end" textLength="23.28" lengthAdjust="spacingAndGlyphs" fill="#231f20">rhTPO</text>
<text x="460.80" y="315.00" font-size="9.3" text-anchor="end" textLength="22.85" lengthAdjust="spacingAndGlyphs" fill="#231f20">2-APB</text>
<text x="473.50" y="303.00" font-size="9.3" text-anchor="middle" textLength="4.4" lengthAdjust="spacingAndGlyphs" fill="#231f20">–</text>
<text x="485.80" y="303.00" font-size="9.3" text-anchor="middle" textLength="4.62" lengthAdjust="spacingAndGlyphs" fill="#231f20">+</text>
<text x="498.50" y="303.00" font-size="9.3" text-anchor="middle" textLength="4.62" lengthAdjust="spacingAndGlyphs" fill="#231f20">+</text>
<text x="473.50" y="315.00" font-size="9.3" text-anchor="middle" textLength="4.4" lengthAdjust="spacingAndGlyphs" fill="#231f20">–</text>
<text x="485.80" y="315.00" font-size="9.3" text-anchor="middle" textLength="4.4" lengthAdjust="spacingAndGlyphs" fill="#231f20">–</text>
<text x="498.50" y="315.00" font-size="9.3" text-anchor="middle" textLength="4.62" lengthAdjust="spacingAndGlyphs" fill="#231f20">+</text>
<text x="228.50" y="346.30" font-size="11.9" font-weight="bold" fill="#231f20">F</text>
<text x="376.50" y="368.50" font-size="9.0" text-anchor="middle" textLength="107.5" lengthAdjust="spacingAndGlyphs" fill="#231f20" class="n">BTP-2 (CRAC channel inhibitor)</text>
<line x1="252.30" y1="372.80" x2="500.40" y2="372.80" stroke="#444" stroke-width="1.2"/>
<line x1="271.50" y1="383.80" x2="271.50" y2="435.80" stroke="#231f20" stroke-width="1.3"/>
<line x1="269.70" y1="435.30" x2="324.50" y2="435.30" stroke="#231f20" stroke-width="1.3"/>
<line x1="268.70" y1="386.50" x2="271.50" y2="386.50" stroke="#231f20" stroke-width="1.0"/>
<line x1="268.70" y1="398.70" x2="271.50" y2="398.70" stroke="#231f20" stroke-width="1.0"/>
<line x1="268.70" y1="411.00" x2="271.50" y2="411.00" stroke="#231f20" stroke-width="1.0"/>
<line x1="268.70" y1="423.10" x2="271.50" y2="423.10" stroke="#231f20" stroke-width="1.0"/>
<line x1="268.70" y1="435.30" x2="271.50" y2="435.30" stroke="#231f20" stroke-width="1.0"/>
<text x="265.80" y="389.70" font-size="9.3" text-anchor="end" textLength="10.99" lengthAdjust="spacingAndGlyphs" fill="#231f20">2.0</text>
<text x="265.80" y="401.90" font-size="9.3" text-anchor="end" textLength="10.99" lengthAdjust="spacingAndGlyphs" fill="#231f20">1.5</text>
<text x="265.80" y="414.20" font-size="9.3" text-anchor="end" textLength="10.99" lengthAdjust="spacingAndGlyphs" fill="#231f20">1.0</text>
<text x="265.80" y="426.30" font-size="9.3" text-anchor="end" textLength="10.99" lengthAdjust="spacingAndGlyphs" fill="#231f20">0.5</text>
<text x="265.80" y="438.50" font-size="9.3" text-anchor="end" textLength="4.4" lengthAdjust="spacingAndGlyphs" fill="#231f20">0</text>
<rect x="274.00" y="434.60" width="12.50" height="0.70" fill="#a00028"/>
<rect x="292.30" y="407.70" width="12.50" height="27.60" fill="#a00028"/>
<line x1="298.70" y1="397.10" x2="298.70" y2="419.20" stroke="#231f20" stroke-width="1.0"/>
<line x1="295.45" y1="397.10" x2="301.95" y2="397.10" stroke="#231f20" stroke-width="1.0"/>
<line x1="295.45" y1="419.20" x2="301.95" y2="419.20" stroke="#231f20" stroke-width="1.0"/>
<rect x="310.00" y="425.00" width="12.10" height="10.30" fill="#a00028"/>
<line x1="316.30" y1="419.60" x2="316.30" y2="430.80" stroke="#231f20" stroke-width="1.0"/>
<line x1="313.05" y1="419.60" x2="319.55" y2="419.60" stroke="#231f20" stroke-width="1.0"/>
<line x1="313.05" y1="430.80" x2="319.55" y2="430.80" stroke="#231f20" stroke-width="1.0"/>
<line x1="281.90" y1="382.60" x2="297.90" y2="382.60" stroke="#3a3a3a" stroke-width="1.2"/>
<circle cx="289.80" cy="378.70" r="1.15" fill="#231f20"/>
<line x1="300.40" y1="382.60" x2="316.50" y2="382.60" stroke="#3a3a3a" stroke-width="1.2"/>
<circle cx="308.50" cy="378.70" r="1.15" fill="#231f20"/>
<text class="v" transform="translate(249.35,409.10) rotate(-90)" x="0" y="0" font-size="10.5" text-anchor="middle" textLength="39.4" lengthAdjust="spacingAndGlyphs" fill="#231f20">p-STAT/STAT</text>
<line x1="276.50" y1="434.40" x2="284.00" y2="434.40" stroke="#231f20" stroke-width="1.0"/>
<line x1="366.20" y1="383.80" x2="366.20" y2="435.80" stroke="#231f20" stroke-width="1.3"/>
<line x1="364.40" y1="435.30" x2="419.50" y2="435.30" stroke="#231f20" stroke-width="1.3"/>
<line x1="363.40" y1="386.20" x2="366.20" y2="386.20" stroke="#231f20" stroke-width="1.0"/>
<line x1="363.40" y1="396.00" x2="366.20" y2="396.00" stroke="#231f20" stroke-width="1.0"/>
<line x1="363.40" y1="405.80" x2="366.20" y2="405.80" stroke="#231f20" stroke-width="1.0"/>
<line x1="363.40" y1="415.60" x2="366.20" y2="415.60" stroke="#231f20" stroke-width="1.0"/>
<line x1="363.40" y1="425.50" x2="366.20" y2="425.50" stroke="#231f20" stroke-width="1.0"/>
<line x1="363.40" y1="435.30" x2="366.20" y2="435.30" stroke="#231f20" stroke-width="1.0"/>
<text x="359.80" y="389.40" font-size="9.3" text-anchor="end" textLength="10.99" lengthAdjust="spacingAndGlyphs" fill="#231f20">2.5</text>
<text x="359.80" y="399.20" font-size="9.3" text-anchor="end" textLength="10.99" lengthAdjust="spacingAndGlyphs" fill="#231f20">2.0</text>
<text x="359.80" y="409.00" font-size="9.3" text-anchor="end" textLength="10.99" lengthAdjust="spacingAndGlyphs" fill="#231f20">1.5</text>
<text x="359.80" y="418.80" font-size="9.3" text-anchor="end" textLength="10.99" lengthAdjust="spacingAndGlyphs" fill="#231f20">1.0</text>
<text x="359.80" y="428.70" font-size="9.3" text-anchor="end" textLength="10.99" lengthAdjust="spacingAndGlyphs" fill="#231f20">0.5</text>
<text x="359.80" y="438.50" font-size="9.3" text-anchor="end" textLength="4.4" lengthAdjust="spacingAndGlyphs" fill="#231f20">0</text>
<rect x="368.10" y="430.20" width="13.10" height="5.10" fill="#a00028"/>
<line x1="374.80" y1="428.50" x2="374.80" y2="431.70" stroke="#231f20" stroke-width="1.0"/>
<line x1="371.55" y1="428.50" x2="378.05" y2="428.50" stroke="#231f20" stroke-width="1.0"/>
<line x1="371.55" y1="431.70" x2="378.05" y2="431.70" stroke="#231f20" stroke-width="1.0"/>
<rect x="386.30" y="404.20" width="12.50" height="31.10" fill="#a00028"/>
<line x1="392.50" y1="395.80" x2="392.50" y2="412.90" stroke="#231f20" stroke-width="1.0"/>
<line x1="389.25" y1="395.80" x2="395.75" y2="395.80" stroke="#231f20" stroke-width="1.0"/>
<line x1="389.25" y1="412.90" x2="395.75" y2="412.90" stroke="#231f20" stroke-width="1.0"/>
<rect x="404.00" y="424.20" width="12.20" height="11.10" fill="#a00028"/>
<line x1="410.00" y1="417.70" x2="410.00" y2="431.30" stroke="#231f20" stroke-width="1.0"/>
<line x1="406.75" y1="417.70" x2="413.25" y2="417.70" stroke="#231f20" stroke-width="1.0"/>
<line x1="406.75" y1="431.30" x2="413.25" y2="431.30" stroke="#231f20" stroke-width="1.0"/>
<line x1="375.20" y1="382.60" x2="391.50" y2="382.60" stroke="#3a3a3a" stroke-width="1.2"/>
<circle cx="382.90" cy="378.70" r="1.15" fill="#231f20"/>
<line x1="393.70" y1="382.60" x2="409.80" y2="382.60" stroke="#3a3a3a" stroke-width="1.2"/>
<circle cx="401.70" cy="378.70" r="1.15" fill="#231f20"/>
<text class="v" transform="translate(343.95,409.90) rotate(-90)" x="0" y="0" font-size="10.5" text-anchor="middle" textLength="34.3" lengthAdjust="spacingAndGlyphs" fill="#231f20">p-AKT/AKT</text>
<line x1="460.10" y1="383.70" x2="460.10" y2="435.80" stroke="#231f20" stroke-width="1.3"/>
<line x1="458.30" y1="435.30" x2="512.60" y2="435.30" stroke="#231f20" stroke-width="1.3"/>
<line x1="457.30" y1="386.40" x2="460.10" y2="386.40" stroke="#231f20" stroke-width="1.0"/>
<line x1="457.30" y1="396.20" x2="460.10" y2="396.20" stroke="#231f20" stroke-width="1.0"/>
<line x1="457.30" y1="406.00" x2="460.10" y2="406.00" stroke="#231f20" stroke-width="1.0"/>
<line x1="457.30" y1="415.80" x2="460.10" y2="415.80" stroke="#231f20" stroke-width="1.0"/>
<line x1="457.30" y1="425.60" x2="460.10" y2="425.60" stroke="#231f20" stroke-width="1.0"/>
<line x1="457.30" y1="435.30" x2="460.10" y2="435.30" stroke="#231f20" stroke-width="1.0"/>
<text x="453.80" y="389.70" font-size="9.3" text-anchor="end" textLength="10.99" lengthAdjust="spacingAndGlyphs" fill="#231f20">2.0</text>
<text x="453.80" y="402.00" font-size="9.3" text-anchor="end" textLength="10.99" lengthAdjust="spacingAndGlyphs" fill="#231f20">1.5</text>
<text x="453.80" y="414.00" font-size="9.3" text-anchor="end" textLength="10.99" lengthAdjust="spacingAndGlyphs" fill="#231f20">1.0</text>
<text x="453.80" y="426.50" font-size="9.3" text-anchor="end" textLength="10.99" lengthAdjust="spacingAndGlyphs" fill="#231f20">0.5</text>
<text x="453.80" y="438.20" font-size="9.3" text-anchor="end" textLength="4.4" lengthAdjust="spacingAndGlyphs" fill="#231f20">0</text>
<rect x="462.40" y="424.50" width="12.50" height="10.80" fill="#a00028"/>
<line x1="468.80" y1="418.30" x2="468.80" y2="431.30" stroke="#231f20" stroke-width="1.0"/>
<line x1="465.55" y1="418.30" x2="472.05" y2="418.30" stroke="#231f20" stroke-width="1.0"/>
<line x1="465.55" y1="431.30" x2="472.05" y2="431.30" stroke="#231f20" stroke-width="1.0"/>
<rect x="479.90" y="402.60" width="12.80" height="32.70" fill="#a00028"/>
<line x1="486.30" y1="396.30" x2="486.30" y2="409.30" stroke="#231f20" stroke-width="1.0"/>
<line x1="483.05" y1="396.30" x2="489.55" y2="396.30" stroke="#231f20" stroke-width="1.0"/>
<line x1="483.05" y1="409.30" x2="489.55" y2="409.30" stroke="#231f20" stroke-width="1.0"/>
<rect x="497.10" y="418.30" width="12.50" height="17.00" fill="#a00028"/>
<line x1="503.60" y1="417.10" x2="503.60" y2="420.10" stroke="#231f20" stroke-width="1.0"/>
<line x1="500.35" y1="417.10" x2="506.85" y2="417.10" stroke="#231f20" stroke-width="1.0"/>
<line x1="500.35" y1="420.10" x2="506.85" y2="420.10" stroke="#231f20" stroke-width="1.0"/>
<line x1="468.60" y1="382.40" x2="484.70" y2="382.40" stroke="#3a3a3a" stroke-width="1.2"/>
<circle cx="476.90" cy="378.50" r="1.15" fill="#231f20"/>
<line x1="487.00" y1="382.40" x2="503.80" y2="382.40" stroke="#3a3a3a" stroke-width="1.2"/>
<circle cx="495.50" cy="378.50" r="1.15" fill="#231f20"/>
<text class="v" transform="translate(438.15,409.50) rotate(-90)" x="0" y="0" font-size="10.5" text-anchor="middle" textLength="36.5" lengthAdjust="spacingAndGlyphs" fill="#231f20">p-ERK/ERK</text>
<g clip-path="url(#c7)">
<rect x="281.10" y="439.60" width="36.90" height="13.90" fill="#f0f0f0"/>
<rect x="282.55" y="446.60" width="7.50" height="2.60" rx="1.30" fill="#bbb" opacity="1" filter="url(#b08)"/>
<rect x="293.50" y="446.10" width="8.80" height="3.60" rx="1.80" fill="#000" opacity="1" filter="url(#b08)"/>
<rect x="305.35" y="446.60" width="8.50" height="2.60" rx="1.30" fill="#555" opacity="1" filter="url(#b08)"/>
<rect x="293.90" y="451.30" width="8.00" height="2.00" rx="1.00" fill="#ccc" opacity="1" filter="url(#b10)"/>
<rect x="282.30" y="451.30" width="8.00" height="2.00" rx="1.00" fill="#ddd" opacity="1" filter="url(#b10)"/>
</g>
<g clip-path="url(#c8)">
<rect x="281.10" y="454.90" width="36.90" height="13.80" fill="#9c9c9c"/>
<rect x="282.50" y="462.90" width="8.80" height="3.20" rx="1.60" fill="#000" opacity="1" filter="url(#b08)"/>
<rect x="293.10" y="462.90" width="9.00" height="3.20" rx="1.60" fill="#000" opacity="1" filter="url(#b08)"/>
<rect x="304.10" y="462.90" width="9.00" height="3.20" rx="1.60" fill="#000" opacity="1" filter="url(#b08)"/>
</g>
<g clip-path="url(#c9)">
<rect x="376.00" y="439.20" width="36.00" height="12.90" fill="#e6e6e6"/>
<rect x="376.25" y="439.00" width="8.50" height="13.00" rx="2.00" fill="#c4c4c4" opacity="1" filter="url(#b12)"/>
<rect x="376.50" y="444.90" width="8.00" height="2.20" rx="1.10" fill="#555" opacity="1" filter="url(#b08)"/>
<rect x="388.35" y="444.50" width="8.50" height="3.00" rx="1.50" fill="#000" opacity="1" filter="url(#b08)"/>
<rect x="400.00" y="445.00" width="8.00" height="2.00" rx="1.00" fill="#888" opacity="1" filter="url(#b08)"/>
<rect x="388.60" y="448.25" width="8.00" height="2.50" rx="1.25" fill="#bbb" opacity="1" filter="url(#b10)"/>
</g>
<g clip-path="url(#c10)">
<rect x="376.00" y="453.00" width="36.30" height="12.90" fill="#8c8c8c"/>
<rect x="378.00" y="458.80" width="8.00" height="3.20" rx="1.60" fill="#000" opacity="1" filter="url(#b08)"/>
<rect x="388.75" y="458.80" width="8.50" height="3.20" rx="1.60" fill="#000" opacity="1" filter="url(#b08)"/>
<rect x="399.90" y="458.80" width="9.00" height="3.20" rx="1.60" fill="#000" opacity="1" filter="url(#b08)"/>
</g>
<g clip-path="url(#c11)">
<rect x="468.30" y="439.20" width="36.60" height="13.30" fill="#e2e2e2"/>
<rect x="468.90" y="439.50" width="8.80" height="14.00" rx="2.00" fill="#a8a8a8" opacity="1" filter="url(#b10)"/>
<rect x="480.50" y="439.50" width="9.20" height="14.00" rx="2.00" fill="#9a9a9a" opacity="1" filter="url(#b10)"/>
<rect x="491.95" y="439.50" width="9.70" height="14.00" rx="2.00" fill="#a8a8a8" opacity="1" filter="url(#b10)"/>
<rect x="469.05" y="449.00" width="8.50" height="3.00" rx="1.50" fill="#888" opacity="1" filter="url(#b08)"/>
<rect x="480.60" y="449.00" width="9.00" height="3.00" rx="1.50" fill="#777" opacity="1" filter="url(#b08)"/>
<rect x="492.05" y="449.00" width="9.50" height="3.00" rx="1.50" fill="#888" opacity="1" filter="url(#b08)"/>
<rect x="469.05" y="443.20" width="8.50" height="2.00" rx="1.00" fill="#3a3a3a" opacity="1" filter="url(#b08)"/>
<rect x="480.60" y="443.10" width="9.00" height="2.20" rx="1.10" fill="#222" opacity="1" filter="url(#b08)"/>
<rect x="492.05" y="443.20" width="9.50" height="2.00" rx="1.00" fill="#3a3a3a" opacity="1" filter="url(#b08)"/>
<rect x="469.05" y="446.40" width="8.50" height="2.40" rx="1.20" fill="#000" opacity="1" filter="url(#b08)"/>
<rect x="480.50" y="446.20" width="9.20" height="2.80" rx="1.40" fill="#000" opacity="1" filter="url(#b08)"/>
<rect x="492.05" y="446.40" width="9.50" height="2.40" rx="1.20" fill="#000" opacity="1" filter="url(#b08)"/>
</g>
<g clip-path="url(#c12)">
<rect x="468.30" y="454.90" width="37.10" height="12.90" fill="#b8b8b8"/>
<rect x="468.55" y="454.00" width="9.50" height="14.00" rx="2.00" fill="#5a5a5a" opacity="1" filter="url(#b10)"/>
<rect x="480.35" y="454.00" width="9.50" height="14.00" rx="2.00" fill="#666" opacity="1" filter="url(#b10)"/>
<rect x="491.95" y="454.00" width="9.70" height="14.00" rx="2.00" fill="#5a5a5a" opacity="1" filter="url(#b10)"/>
<rect x="468.55" y="463.80" width="9.50" height="3.00" rx="1.50" fill="#2a2a2a" opacity="1" filter="url(#b08)"/>
<rect x="480.50" y="463.80" width="9.20" height="3.00" rx="1.50" fill="#333" opacity="1" filter="url(#b08)"/>
<rect x="492.05" y="463.80" width="9.50" height="3.00" rx="1.50" fill="#2a2a2a" opacity="1" filter="url(#b08)"/>
<rect x="468.55" y="457.20" width="9.50" height="2.60" rx="1.30" fill="#000" opacity="1" filter="url(#b08)"/>
<rect x="480.60" y="457.30" width="9.00" height="2.40" rx="1.20" fill="#0a0a0a" opacity="1" filter="url(#b08)"/>
<rect x="492.05" y="457.20" width="9.50" height="2.60" rx="1.30" fill="#000" opacity="1" filter="url(#b08)"/>
<rect x="468.55" y="460.90" width="9.50" height="2.80" rx="1.40" fill="#000" opacity="1" filter="url(#b08)"/>
<rect x="480.60" y="461.00" width="9.00" height="2.60" rx="1.30" fill="#000" opacity="1" filter="url(#b08)"/>
<rect x="492.05" y="460.90" width="9.50" height="2.80" rx="1.40" fill="#000" opacity="1" filter="url(#b08)"/>
</g>
<text x="277.50" y="450.70" font-size="9.3" text-anchor="end" textLength="30.2" lengthAdjust="spacingAndGlyphs" fill="#231f20">p-STAT5</text>
<text x="277.50" y="466.70" font-size="9.3" text-anchor="end" textLength="22.7" lengthAdjust="spacingAndGlyphs" fill="#231f20">STAT5</text>
<text x="277.50" y="479.70" font-size="9.3" text-anchor="end" textLength="23.28" lengthAdjust="spacingAndGlyphs" fill="#231f20">rhTPO</text>
<text x="277.50" y="491.60" font-size="9.3" text-anchor="end" textLength="22.4" lengthAdjust="spacingAndGlyphs" fill="#231f20">BTP-2</text>
<text x="287.50" y="479.70" font-size="9.3" text-anchor="middle" textLength="4.4" lengthAdjust="spacingAndGlyphs" fill="#231f20">–</text>
<text x="298.10" y="479.70" font-size="9.3" text-anchor="middle" textLength="4.62" lengthAdjust="spacingAndGlyphs" fill="#231f20">+</text>
<text x="311.00" y="479.70" font-size="9.3" text-anchor="middle" textLength="4.62" lengthAdjust="spacingAndGlyphs" fill="#231f20">+</text>
<text x="287.30" y="491.60" font-size="9.3" text-anchor="middle" textLength="4.4" lengthAdjust="spacingAndGlyphs" fill="#231f20">–</text>
<text x="298.40" y="491.60" font-size="9.3" text-anchor="middle" textLength="4.4" lengthAdjust="spacingAndGlyphs" fill="#231f20">–</text>
<text x="310.90" y="491.60" font-size="9.3" text-anchor="middle" textLength="4.62" lengthAdjust="spacingAndGlyphs" fill="#231f20">+</text>
<text x="371.90" y="449.90" font-size="9.3" text-anchor="end" textLength="23.1" lengthAdjust="spacingAndGlyphs" fill="#231f20">p-AKT</text>
<text x="371.90" y="463.40" font-size="9.3" text-anchor="end" textLength="15.0" lengthAdjust="spacingAndGlyphs" fill="#231f20">AKT</text>
<text x="371.90" y="479.70" font-size="9.3" text-anchor="end" textLength="23.28" lengthAdjust="spacingAndGlyphs" fill="#231f20">rhTPO</text>
<text x="371.90" y="491.40" font-size="9.3" text-anchor="end" textLength="22.4" lengthAdjust="spacingAndGlyphs" fill="#231f20">BTP-2</text>
<text x="381.20" y="479.70" font-size="9.3" text-anchor="middle" textLength="4.4" lengthAdjust="spacingAndGlyphs" fill="#231f20">–</text>
<text x="392.10" y="479.70" font-size="9.3" text-anchor="middle" textLength="4.62" lengthAdjust="spacingAndGlyphs" fill="#231f20">+</text>
<text x="403.30" y="479.70" font-size="9.3" text-anchor="middle" textLength="4.62" lengthAdjust="spacingAndGlyphs" fill="#231f20">+</text>
<text x="381.20" y="491.40" font-size="9.3" text-anchor="middle" textLength="4.4" lengthAdjust="spacingAndGlyphs" fill="#231f20">–</text>
<text x="392.10" y="491.40" font-size="9.3" text-anchor="middle" textLength="4.4" lengthAdjust="spacingAndGlyphs" fill="#231f20">–</text>
<text x="403.30" y="491.40" font-size="9.3" text-anchor="middle" textLength="4.62" lengthAdjust="spacingAndGlyphs" fill="#231f20">+</text>
<text x="465.20" y="449.30" font-size="9.3" text-anchor="end" textLength="22.5" lengthAdjust="spacingAndGlyphs" fill="#231f20">p-ERK</text>
<text x="465.20" y="464.70" font-size="9.3" text-anchor="end" textLength="15.0" lengthAdjust="spacingAndGlyphs" fill="#231f20">ERK</text>
<text x="465.20" y="479.70" font-size="9.3" text-anchor="end" textLength="23.28" lengthAdjust="spacingAndGlyphs" fill="#231f20">rhTPO</text>
<text x="465.20" y="491.40" font-size="9.3" text-anchor="end" textLength="22.4" lengthAdjust="spacingAndGlyphs" fill="#231f20">BTP-2</text>
<text x="474.80" y="479.70" font-size="9.3" text-anchor="middle" textLength="4.4" lengthAdjust="spacingAndGlyphs" fill="#231f20">–</text>
<text x="486.70" y="479.70" font-size="9.3" text-anchor="middle" textLength="4.62" lengthAdjust="spacingAndGlyphs" fill="#231f20">+</text>
<text x="498.30" y="479.70" font-size="9.3" text-anchor="middle" textLength="4.62" lengthAdjust="spacingAndGlyphs" fill="#231f20">+</text>
<text x="474.80" y="491.40" font-size="9.3" text-anchor="middle" textLength="4.4" lengthAdjust="spacingAndGlyphs" fill="#231f20">–</text>
<text x="486.30" y="491.40" font-size="9.3" text-anchor="middle" textLength="4.4" lengthAdjust="spacingAndGlyphs" fill="#231f20">–</text>
<text x="498.30" y="491.40" font-size="9.3" text-anchor="middle" textLength="4.62" lengthAdjust="spacingAndGlyphs" fill="#231f20">+</text>
<g clip-path="url(#c13)">
<rect x="50.80" y="43.90" width="30.50" height="39.80" fill="url(#g2)"/>
<rect x="54.80" y="44.00" width="10.00" height="10.00" fill="url(#g3)" filter="url(#b10)"/>
<rect x="67.90" y="44.00" width="10.00" height="10.00" fill="url(#g4)" filter="url(#b10)"/>
<rect x="55.05" y="56.00" width="9.50" height="17.00" fill="url(#g5)" filter="url(#b10)"/>
<rect x="68.15" y="56.00" width="9.50" height="17.00" fill="url(#g6)" filter="url(#b10)"/>
<rect x="55.30" y="53.70" width="9.00" height="4.20" rx="2.00" fill="#555" opacity="1" filter="url(#b08)"/>
<rect x="68.40" y="53.80" width="9.00" height="4.40" rx="2.00" fill="#111" opacity="1" filter="url(#b08)"/>
<rect x="54.60" y="79.00" width="10.00" height="5.00" fill="url(#g7)" filter="url(#b10)"/>
<rect x="67.70" y="79.00" width="10.00" height="5.00" fill="url(#g8)" filter="url(#b10)"/>
<rect x="54.50" y="75.10" width="10.00" height="4.40" rx="2.00" fill="#000" opacity="1" filter="url(#b08)"/>
<rect x="67.70" y="75.10" width="10.00" height="4.40" rx="2.00" fill="#000" opacity="1" filter="url(#b08)"/>
</g>
<g clip-path="url(#c14)">
<rect x="50.80" y="86.50" width="30.90" height="39.30" fill="url(#g9)"/>
<rect x="53.60" y="86.50" width="10.00" height="7.50" fill="url(#g10)" filter="url(#b10)"/>
<rect x="68.10" y="86.50" width="10.00" height="7.50" fill="url(#g11)" filter="url(#b10)"/>
<rect x="53.85" y="97.00" width="9.50" height="14.00" fill="url(#g12)" filter="url(#b10)"/>
<rect x="68.35" y="97.00" width="9.50" height="14.00" fill="url(#g13)" filter="url(#b10)"/>
<rect x="54.10" y="112.00" width="9.00" height="3.00" rx="1.50" fill="#bbb" opacity="1" filter="url(#b10)"/>
<rect x="68.60" y="112.00" width="9.00" height="3.00" rx="1.50" fill="#bbb" opacity="1" filter="url(#b10)"/>
<rect x="53.85" y="93.50" width="9.50" height="4.80" rx="2.00" fill="#1a1a1a" opacity="1" filter="url(#b08)"/>
<rect x="68.35" y="93.50" width="9.50" height="4.80" rx="2.00" fill="#0d0d0d" opacity="1" filter="url(#b08)"/>
<rect x="53.60" y="120.00" width="10.00" height="6.00" fill="url(#g14)" filter="url(#b10)"/>
<rect x="68.10" y="120.00" width="10.00" height="6.00" fill="url(#g15)" filter="url(#b10)"/>
<rect x="53.50" y="116.10" width="10.20" height="4.60" rx="2.00" fill="#000" opacity="1" filter="url(#b08)"/>
<rect x="68.00" y="116.10" width="10.20" height="4.60" rx="2.00" fill="#000" opacity="1" filter="url(#b08)"/>
</g>
<g clip-path="url(#c15)">
<rect x="50.90" y="133.00" width="31.10" height="11.70" fill="#8e8e8e"/>
<rect x="53.95" y="133.00" width="10.40" height="11.70" rx="2.00" fill="#3c3c3c" opacity="1" filter="url(#b08)"/>
<rect x="67.90" y="133.00" width="10.80" height="11.70" rx="2.00" fill="#3c3c3c" opacity="1" filter="url(#b08)"/>
<rect x="54.35" y="134.00" width="9.60" height="5.60" rx="2.00" fill="#1a1a1a" opacity="1" filter="url(#b08)"/>
<rect x="68.30" y="134.00" width="10.00" height="5.60" rx="2.00" fill="#1a1a1a" opacity="1" filter="url(#b08)"/>
<rect x="54.35" y="141.80" width="9.60" height="1.20" rx="0.60" fill="#555" opacity="1" filter="url(#b08)"/>
<rect x="68.30" y="141.80" width="10.00" height="1.20" rx="0.60" fill="#555" opacity="1" filter="url(#b08)"/>
</g>
<rect x="0.55" y="0.6" width="518.9" height="507.8" fill="none" stroke="#000" stroke-width="1.15"/></svg></body></html>
